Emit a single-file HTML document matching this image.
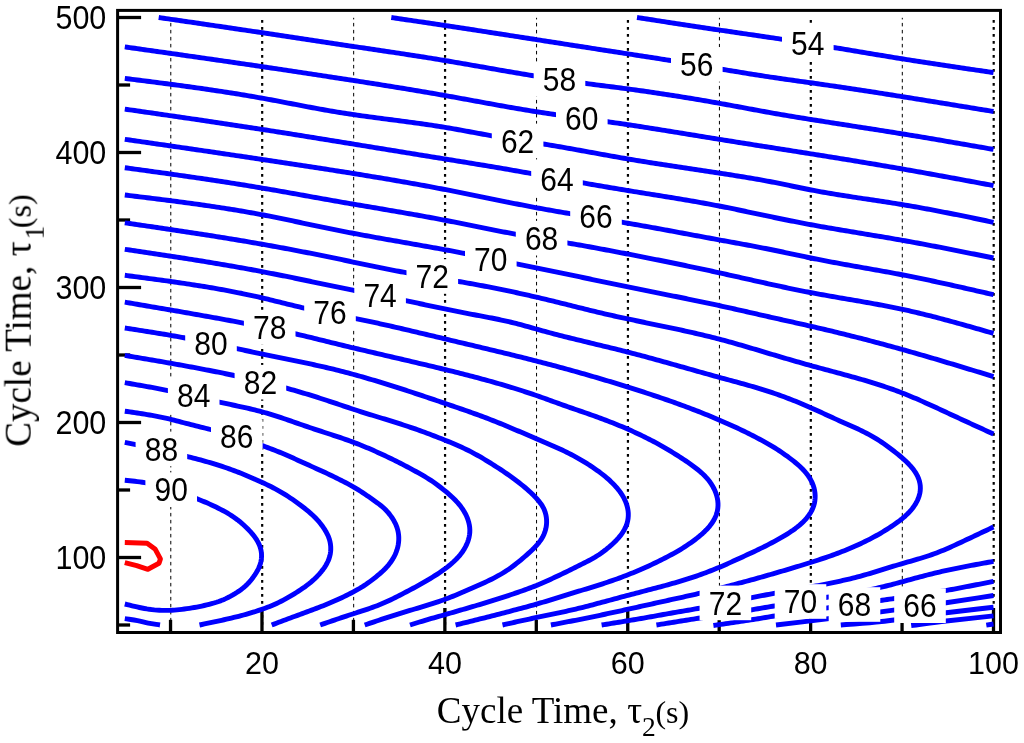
<!DOCTYPE html><html><head><meta charset="utf-8"><style>html,body{margin:0;padding:0;background:#fff;}text{will-change:transform;}svg{display:block;}</style></head><body>
<svg width="1024" height="743" viewBox="0 0 1024 743">
<rect x="0" y="0" width="1024" height="743" fill="#fff"/>
<defs><clipPath id="dom"><rect x="124.82" y="17.50" width="868.68" height="607.50"/></clipPath></defs>
<line x1="170.79" y1="17.80" x2="170.79" y2="625.00" stroke="#000" stroke-width="1" stroke-dasharray="3.5 3.5" stroke-dashoffset="1.9"/>
<line x1="262.18" y1="20.05" x2="262.18" y2="625.00" stroke="#000" stroke-width="2.2" stroke-dasharray="2.7 4.3"/>
<line x1="353.67" y1="17.80" x2="353.67" y2="625.00" stroke="#000" stroke-width="1" stroke-dasharray="3.5 3.5" stroke-dashoffset="1.9"/>
<line x1="445.06" y1="20.05" x2="445.06" y2="625.00" stroke="#000" stroke-width="2.2" stroke-dasharray="2.7 4.3"/>
<line x1="536.55" y1="17.80" x2="536.55" y2="625.00" stroke="#000" stroke-width="1" stroke-dasharray="3.5 3.5" stroke-dashoffset="1.9"/>
<line x1="627.94" y1="20.05" x2="627.94" y2="625.00" stroke="#000" stroke-width="2.2" stroke-dasharray="2.7 4.3"/>
<line x1="719.43" y1="17.80" x2="719.43" y2="625.00" stroke="#000" stroke-width="1" stroke-dasharray="3.5 3.5" stroke-dashoffset="1.9"/>
<line x1="810.82" y1="20.05" x2="810.82" y2="625.00" stroke="#000" stroke-width="2.2" stroke-dasharray="2.7 4.3"/>
<line x1="902.31" y1="17.80" x2="902.31" y2="625.00" stroke="#000" stroke-width="1" stroke-dasharray="3.5 3.5" stroke-dashoffset="1.9"/>
<line x1="993.70" y1="20.05" x2="993.70" y2="625.00" stroke="#000" stroke-width="2.2" stroke-dasharray="2.7 4.3"/>
<line x1="117.60" y1="625.00" x2="130.10" y2="625.00" stroke="#000" stroke-width="3.3"/>
<line x1="117.60" y1="557.50" x2="141.10" y2="557.50" stroke="#000" stroke-width="3.3"/>
<line x1="117.60" y1="490.00" x2="130.10" y2="490.00" stroke="#000" stroke-width="3.3"/>
<line x1="117.60" y1="422.50" x2="141.10" y2="422.50" stroke="#000" stroke-width="3.3"/>
<line x1="117.60" y1="355.00" x2="130.10" y2="355.00" stroke="#000" stroke-width="3.3"/>
<line x1="117.60" y1="287.50" x2="141.10" y2="287.50" stroke="#000" stroke-width="3.3"/>
<line x1="117.60" y1="220.00" x2="130.10" y2="220.00" stroke="#000" stroke-width="3.3"/>
<line x1="117.60" y1="152.50" x2="141.10" y2="152.50" stroke="#000" stroke-width="3.3"/>
<line x1="117.60" y1="85.00" x2="130.10" y2="85.00" stroke="#000" stroke-width="3.3"/>
<line x1="117.60" y1="17.50" x2="141.10" y2="17.50" stroke="#000" stroke-width="3.3"/>
<line x1="170.54" y1="632.50" x2="170.54" y2="619.80" stroke="#000" stroke-width="3.3"/>
<line x1="261.98" y1="632.50" x2="261.98" y2="608.00" stroke="#000" stroke-width="3.3"/>
<line x1="353.42" y1="632.50" x2="353.42" y2="619.80" stroke="#000" stroke-width="3.3"/>
<line x1="444.86" y1="632.50" x2="444.86" y2="608.00" stroke="#000" stroke-width="3.3"/>
<line x1="536.30" y1="632.50" x2="536.30" y2="619.80" stroke="#000" stroke-width="3.3"/>
<line x1="627.74" y1="632.50" x2="627.74" y2="608.00" stroke="#000" stroke-width="3.3"/>
<line x1="719.18" y1="632.50" x2="719.18" y2="619.80" stroke="#000" stroke-width="3.3"/>
<line x1="810.62" y1="632.50" x2="810.62" y2="608.00" stroke="#000" stroke-width="3.3"/>
<line x1="902.06" y1="632.50" x2="902.06" y2="619.80" stroke="#000" stroke-width="3.3"/>
<line x1="993.50" y1="632.50" x2="993.50" y2="608.00" stroke="#000" stroke-width="3.3"/>
<g fill="none" stroke="#0000ff" stroke-width="4.9" stroke-linejoin="round" stroke-linecap="butt">
<path d="M637.00,17.50 L639.48,17.88 L641.95,18.26 L644.43,18.65 L646.90,19.03 L649.38,19.41 L651.86,19.79 L654.33,20.17 L656.81,20.56 L659.28,20.94 L661.76,21.32 L664.23,21.70 L666.71,22.08 L669.19,22.46 L671.66,22.84 L674.14,23.22 L676.62,23.60 L679.09,23.97 L681.57,24.35 L684.05,24.73 L686.52,25.11 L689.00,25.48 L691.48,25.86 L693.95,26.23 L696.43,26.61 L698.91,26.98 L701.38,27.35 L703.86,27.73 L706.34,28.10 L708.82,28.47 L711.29,28.84 L713.77,29.21 L716.25,29.58 L718.73,29.94 L721.21,30.31 L723.68,30.67 L726.16,31.04 L728.64,31.40 L731.12,31.77 L733.60,32.13 L736.08,32.49 L738.56,32.85 L741.04,33.22 L743.51,33.58 L745.99,33.94 L748.47,34.30 L750.95,34.66 L753.43,35.03 L755.91,35.39 L758.39,35.75 L760.87,36.12 L763.34,36.48 L765.82,36.85 L768.30,37.22 L770.78,37.58 L773.26,37.95 L775.73,38.32 L778.21,38.69 L780.69,39.07 L783.17,39.44 L785.64,39.82 L788.12,40.19 L790.60,40.57 L793.07,40.95 L795.55,41.34 L798.02,41.72 L800.50,42.11 L802.97,42.50 L805.45,42.89 L807.92,43.28 L810.39,43.68 L812.87,44.07 L815.34,44.47 L817.81,44.87 L820.29,45.27 L822.76,45.68 L825.23,46.08 L827.70,46.49 L830.17,46.90 L832.65,47.30 L835.12,47.71 L837.59,48.12 L840.06,48.53 L842.53,48.95 L845.00,49.36 L847.47,49.77 L849.94,50.18 L852.42,50.59 L854.89,51.01 L857.36,51.42 L859.83,51.83 L862.30,52.25 L864.77,52.66 L867.24,53.07 L869.71,53.48 L872.18,53.90 L874.65,54.31 L877.13,54.72 L879.60,55.13 L882.07,55.53 L884.54,55.94 L887.01,56.35 L889.49,56.75 L891.96,57.16 L894.43,57.56 L896.90,57.96 L899.38,58.36 L901.85,58.76 L904.32,59.15 L906.80,59.55 L909.27,59.94 L911.75,60.33 L914.22,60.72 L916.70,61.10 L919.17,61.49 L921.65,61.87 L924.12,62.26 L926.60,62.64 L929.07,63.02 L931.55,63.40 L934.03,63.78 L936.50,64.15 L938.98,64.53 L941.46,64.90 L943.93,65.27 L946.41,65.65 L948.89,66.02 L951.37,66.39 L953.84,66.76 L956.32,67.13 L958.80,67.50 L961.28,67.86 L963.76,68.23 L966.23,68.60 L968.71,68.96 L971.19,69.33 L973.67,69.69 L976.15,70.06 L978.63,70.42 L981.11,70.78 L983.58,71.15 L986.06,71.51 L988.54,71.87 L991.02,72.24 L993.50,72.60"/>
<path d="M391.30,17.50 L393.78,17.87 L396.26,18.24 L398.74,18.60 L401.22,18.97 L403.71,19.34 L406.19,19.71 L408.67,20.07 L411.15,20.44 L413.63,20.81 L416.11,21.18 L418.59,21.55 L421.07,21.92 L423.55,22.29 L426.03,22.66 L428.52,23.03 L431.00,23.40 L433.48,23.77 L435.96,24.14 L438.44,24.52 L440.92,24.89 L443.40,25.26 L445.88,25.64 L448.36,26.01 L450.84,26.39 L453.32,26.77 L455.80,27.14 L458.28,27.52 L460.76,27.90 L463.24,28.28 L465.72,28.65 L468.20,29.03 L470.68,29.41 L473.15,29.79 L475.63,30.17 L478.11,30.56 L480.59,30.94 L483.07,31.32 L485.55,31.70 L488.03,32.09 L490.51,32.47 L492.99,32.85 L495.47,33.24 L497.94,33.62 L500.42,34.00 L502.90,34.39 L505.38,34.77 L507.86,35.16 L510.34,35.55 L512.82,35.93 L515.29,36.32 L517.77,36.70 L520.25,37.09 L522.73,37.48 L525.21,37.86 L527.69,38.25 L530.16,38.64 L532.64,39.02 L535.12,39.41 L537.60,39.80 L540.08,40.19 L542.55,40.57 L545.03,40.96 L547.51,41.35 L549.99,41.74 L552.47,42.12 L554.95,42.51 L557.42,42.90 L559.90,43.29 L562.38,43.67 L564.86,44.06 L567.34,44.45 L569.81,44.83 L572.29,45.22 L574.77,45.61 L577.25,45.99 L579.73,46.38 L582.21,46.77 L584.68,47.15 L587.16,47.54 L589.64,47.93 L592.12,48.31 L594.60,48.70 L597.08,49.08 L599.55,49.47 L602.03,49.85 L604.51,50.24 L606.99,50.62 L609.47,51.01 L611.95,51.39 L614.43,51.77 L616.91,52.16 L619.38,52.54 L621.86,52.92 L624.34,53.31 L626.82,53.69 L629.30,54.07 L631.78,54.45 L634.26,54.83 L636.74,55.22 L639.22,55.60 L641.70,55.98 L644.17,56.36 L646.65,56.75 L649.13,57.13 L651.61,57.52 L654.09,57.91 L656.57,58.29 L659.04,58.69 L661.52,59.08 L664.00,59.47 L666.47,59.87 L668.95,60.27 L671.43,60.67 L673.90,61.08 L676.38,61.49 L678.85,61.90 L681.32,62.31 L683.80,62.72 L686.27,63.14 L688.74,63.56 L691.22,63.98 L693.69,64.40 L696.16,64.82 L698.64,65.24 L701.11,65.66 L703.58,66.09 L706.05,66.51 L708.52,66.93 L711.00,67.36 L713.47,67.78 L715.94,68.20 L718.41,68.63 L720.89,69.05 L723.36,69.47 L725.83,69.89 L728.31,70.30 L730.78,70.72 L733.25,71.13 L735.73,71.54 L738.20,71.95 L740.68,72.36 L743.15,72.77 L745.63,73.17 L748.10,73.57 L750.58,73.97 L753.06,74.37 L755.53,74.76 L758.01,75.15 L760.49,75.54 L762.97,75.92 L765.45,76.30 L767.93,76.68 L770.41,77.06 L772.89,77.43 L775.37,77.79 L777.85,78.16 L780.33,78.52 L782.82,78.87 L785.30,79.23 L787.78,79.58 L790.27,79.93 L792.75,80.27 L795.23,80.62 L797.72,80.97 L800.20,81.31 L802.69,81.66 L805.17,82.00 L807.66,82.35 L810.14,82.70 L812.62,83.05 L815.11,83.40 L817.59,83.76 L820.07,84.11 L822.56,84.47 L825.04,84.83 L827.52,85.19 L830.00,85.55 L832.48,85.91 L834.97,86.28 L837.45,86.64 L839.93,87.01 L842.41,87.38 L844.89,87.75 L847.37,88.12 L849.85,88.49 L852.33,88.87 L854.81,89.24 L857.29,89.62 L859.77,90.00 L862.25,90.38 L864.73,90.76 L867.21,91.14 L869.69,91.52 L872.17,91.91 L874.64,92.29 L877.12,92.68 L879.60,93.06 L882.08,93.45 L884.56,93.84 L887.04,94.23 L889.51,94.62 L891.99,95.01 L894.47,95.40 L896.95,95.80 L899.42,96.19 L901.90,96.58 L904.38,96.98 L906.85,97.37 L909.33,97.77 L911.81,98.17 L914.28,98.56 L916.76,98.96 L919.24,99.36 L921.71,99.76 L924.19,100.16 L926.67,100.56 L929.14,100.96 L931.62,101.36 L934.09,101.76 L936.57,102.17 L939.05,102.57 L941.52,102.97 L944.00,103.38 L946.47,103.78 L948.95,104.18 L951.42,104.59 L953.90,104.99 L956.37,105.40 L958.85,105.80 L961.32,106.21 L963.80,106.62 L966.27,107.02 L968.75,107.43 L971.23,107.84 L973.70,108.24 L976.18,108.65 L978.65,109.06 L981.13,109.46 L983.60,109.87 L986.08,110.28 L988.55,110.69 L991.03,111.09 L993.50,111.50"/>
<path d="M158.70,17.50 L161.17,17.86 L163.65,18.22 L166.12,18.58 L168.60,18.94 L171.07,19.30 L173.55,19.66 L176.02,20.02 L178.50,20.38 L180.97,20.74 L183.45,21.10 L185.92,21.46 L188.40,21.82 L190.87,22.18 L193.34,22.54 L195.82,22.91 L198.29,23.27 L200.77,23.63 L203.24,23.99 L205.72,24.35 L208.19,24.72 L210.66,25.08 L213.14,25.44 L215.61,25.81 L218.09,26.17 L220.56,26.53 L223.03,26.90 L225.51,27.26 L227.98,27.63 L230.46,27.99 L232.93,28.36 L235.40,28.72 L237.88,29.09 L240.35,29.46 L242.82,29.83 L245.30,30.19 L247.77,30.56 L250.24,30.93 L252.72,31.30 L255.19,31.67 L257.66,32.04 L260.14,32.41 L262.61,32.78 L265.08,33.16 L267.56,33.53 L270.03,33.90 L272.50,34.28 L274.97,34.65 L277.45,35.02 L279.92,35.40 L282.39,35.77 L284.86,36.15 L287.33,36.53 L289.81,36.90 L292.28,37.28 L294.75,37.65 L297.22,38.03 L299.70,38.40 L302.17,38.78 L304.64,39.15 L307.11,39.53 L309.59,39.90 L312.06,40.28 L314.53,40.65 L317.00,41.03 L319.48,41.40 L321.95,41.78 L324.42,42.15 L326.89,42.52 L329.37,42.89 L331.84,43.27 L334.31,43.64 L336.79,44.01 L339.26,44.38 L341.73,44.74 L344.21,45.11 L346.68,45.48 L349.15,45.85 L351.63,46.21 L354.10,46.58 L356.58,46.94 L359.05,47.31 L361.52,47.68 L364.00,48.04 L366.47,48.41 L368.94,48.77 L371.42,49.14 L373.89,49.50 L376.37,49.87 L378.84,50.24 L381.31,50.60 L383.79,50.97 L386.26,51.34 L388.73,51.71 L391.21,52.08 L393.68,52.45 L396.15,52.83 L398.63,53.20 L401.10,53.57 L403.57,53.95 L406.04,54.33 L408.51,54.71 L410.99,55.09 L413.46,55.47 L415.93,55.85 L418.40,56.24 L420.87,56.63 L423.34,57.02 L425.81,57.41 L428.28,57.80 L430.75,58.20 L433.22,58.60 L435.68,59.00 L438.15,59.40 L440.62,59.81 L443.09,60.22 L445.55,60.63 L448.02,61.04 L450.48,61.46 L452.95,61.88 L455.41,62.30 L457.88,62.72 L460.34,63.15 L462.81,63.57 L465.27,64.00 L467.73,64.43 L470.20,64.86 L472.66,65.29 L475.12,65.73 L477.59,66.16 L480.05,66.59 L482.51,67.03 L484.98,67.46 L487.44,67.90 L489.90,68.33 L492.36,68.76 L494.83,69.20 L497.29,69.63 L499.75,70.06 L502.22,70.49 L504.68,70.92 L507.14,71.34 L509.61,71.77 L512.07,72.19 L514.54,72.62 L517.00,73.03 L519.47,73.45 L521.93,73.87 L524.40,74.28 L526.87,74.69 L529.34,75.09 L531.80,75.50 L534.27,75.89 L536.74,76.29 L539.21,76.68 L541.68,77.07 L544.15,77.46 L546.62,77.84 L549.09,78.22 L551.57,78.59 L554.04,78.96 L556.51,79.33 L558.99,79.70 L561.46,80.06 L563.94,80.42 L566.41,80.77 L568.89,81.13 L571.36,81.48 L573.84,81.82 L576.32,82.16 L578.79,82.51 L581.27,82.84 L583.75,83.18 L586.23,83.51 L588.71,83.84 L591.19,84.16 L593.67,84.49 L596.15,84.81 L598.63,85.13 L601.11,85.45 L603.59,85.77 L606.07,86.09 L608.55,86.41 L611.03,86.73 L613.51,87.05 L615.99,87.37 L618.47,87.69 L620.95,88.01 L623.43,88.34 L625.91,88.67 L628.38,89.00 L630.86,89.33 L633.34,89.67 L635.82,90.01 L638.29,90.35 L640.77,90.70 L643.25,91.05 L645.72,91.40 L648.20,91.76 L650.67,92.12 L653.15,92.48 L655.62,92.84 L658.10,93.21 L660.57,93.58 L663.04,93.96 L665.51,94.33 L667.99,94.71 L670.46,95.10 L672.93,95.48 L675.40,95.87 L677.87,96.26 L680.34,96.66 L682.81,97.06 L685.28,97.46 L687.74,97.86 L690.21,98.27 L692.68,98.68 L695.14,99.09 L697.61,99.50 L700.08,99.92 L702.54,100.34 L705.01,100.77 L707.47,101.20 L709.93,101.63 L712.40,102.06 L714.86,102.50 L717.32,102.93 L719.78,103.38 L722.24,103.82 L724.70,104.27 L727.16,104.72 L729.62,105.17 L732.08,105.62 L734.54,106.08 L737.00,106.53 L739.46,106.99 L741.92,107.44 L744.38,107.90 L746.84,108.36 L749.29,108.81 L751.75,109.27 L754.21,109.72 L756.67,110.18 L759.13,110.63 L761.59,111.08 L764.05,111.52 L766.51,111.97 L768.97,112.41 L771.43,112.85 L773.90,113.29 L776.36,113.72 L778.82,114.15 L781.29,114.58 L783.75,115.00 L786.22,115.42 L788.68,115.83 L791.15,116.24 L793.61,116.65 L796.08,117.06 L798.55,117.47 L801.02,117.87 L803.49,118.27 L805.95,118.67 L808.42,119.07 L810.89,119.46 L813.36,119.86 L815.83,120.25 L818.30,120.64 L820.77,121.03 L823.24,121.42 L825.71,121.81 L828.18,122.20 L830.65,122.59 L833.12,122.98 L835.59,123.36 L838.06,123.75 L840.53,124.14 L843.00,124.52 L845.48,124.91 L847.95,125.29 L850.42,125.68 L852.89,126.06 L855.36,126.44 L857.83,126.83 L860.30,127.21 L862.77,127.60 L865.24,127.99 L867.71,128.37 L870.18,128.76 L872.65,129.15 L875.12,129.53 L877.60,129.92 L880.07,130.31 L882.54,130.70 L885.01,131.09 L887.48,131.48 L889.94,131.88 L892.41,132.27 L894.88,132.67 L897.35,133.06 L899.82,133.46 L902.29,133.86 L904.76,134.26 L907.23,134.67 L909.69,135.07 L912.16,135.48 L914.63,135.88 L917.09,136.29 L919.56,136.70 L922.03,137.11 L924.49,137.53 L926.96,137.94 L929.43,138.35 L931.89,138.77 L934.36,139.19 L936.82,139.61 L939.29,140.02 L941.75,140.44 L944.22,140.86 L946.68,141.29 L949.15,141.71 L951.61,142.13 L954.08,142.56 L956.54,142.98 L959.01,143.41 L961.47,143.83 L963.94,144.26 L966.40,144.68 L968.86,145.11 L971.33,145.54 L973.79,145.97 L976.25,146.40 L978.72,146.82 L981.18,147.25 L983.65,147.68 L986.11,148.11 L988.57,148.54 L991.04,148.97 L993.50,149.40"/>
<path d="M124.80,46.90 L127.28,47.25 L129.76,47.60 L132.25,47.95 L134.73,48.30 L137.21,48.66 L139.69,49.01 L142.17,49.36 L144.65,49.71 L147.14,50.06 L149.62,50.41 L152.10,50.76 L154.58,51.12 L157.06,51.47 L159.54,51.82 L162.03,52.17 L164.51,52.52 L166.99,52.88 L169.47,53.23 L171.95,53.58 L174.43,53.94 L176.92,54.29 L179.40,54.64 L181.88,55.00 L184.36,55.35 L186.84,55.70 L189.32,56.06 L191.80,56.41 L194.28,56.77 L196.77,57.12 L199.25,57.48 L201.73,57.83 L204.21,58.19 L206.69,58.55 L209.17,58.90 L211.65,59.26 L214.13,59.62 L216.61,59.98 L219.09,60.33 L221.58,60.69 L224.06,61.05 L226.54,61.41 L229.02,61.77 L231.50,62.13 L233.98,62.49 L236.46,62.85 L238.94,63.22 L241.42,63.58 L243.90,63.94 L246.38,64.30 L248.86,64.67 L251.34,65.03 L253.82,65.40 L256.30,65.76 L258.78,66.13 L261.26,66.49 L263.74,66.86 L266.22,67.23 L268.70,67.59 L271.18,67.96 L273.65,68.33 L276.13,68.70 L278.61,69.07 L281.09,69.44 L283.57,69.81 L286.05,70.18 L288.53,70.56 L291.01,70.93 L293.49,71.30 L295.96,71.68 L298.44,72.05 L300.92,72.42 L303.40,72.80 L305.88,73.17 L308.35,73.55 L310.83,73.93 L313.31,74.30 L315.79,74.68 L318.27,75.06 L320.74,75.44 L323.22,75.82 L325.70,76.20 L328.18,76.58 L330.65,76.96 L333.13,77.34 L335.61,77.72 L338.09,78.10 L340.56,78.48 L343.04,78.86 L345.52,79.25 L348.00,79.63 L350.47,80.01 L352.95,80.40 L355.43,80.78 L357.90,81.17 L360.38,81.55 L362.86,81.94 L365.33,82.33 L367.81,82.72 L370.28,83.11 L372.76,83.50 L375.24,83.89 L377.71,84.28 L380.19,84.68 L382.66,85.07 L385.14,85.47 L387.61,85.87 L390.09,86.27 L392.56,86.67 L395.04,87.07 L397.51,87.47 L399.98,87.87 L402.46,88.28 L404.93,88.69 L407.40,89.09 L409.88,89.50 L412.35,89.92 L414.82,90.33 L417.29,90.74 L419.76,91.16 L422.23,91.58 L424.71,92.00 L427.18,92.42 L429.65,92.85 L432.12,93.27 L434.59,93.70 L437.06,94.13 L439.53,94.57 L441.99,95.00 L444.46,95.44 L446.93,95.88 L449.40,96.32 L451.87,96.76 L454.33,97.20 L456.80,97.65 L459.27,98.10 L461.73,98.55 L464.20,99.00 L466.66,99.45 L469.13,99.90 L471.60,100.35 L474.06,100.80 L476.53,101.26 L478.99,101.71 L481.46,102.16 L483.93,102.61 L486.39,103.06 L488.86,103.51 L491.32,103.96 L493.79,104.40 L496.26,104.85 L498.72,105.29 L501.19,105.73 L503.66,106.17 L506.13,106.61 L508.60,107.05 L511.06,107.48 L513.53,107.91 L516.00,108.34 L518.47,108.76 L520.94,109.18 L523.42,109.60 L525.89,110.01 L528.36,110.42 L530.83,110.82 L533.31,111.22 L535.78,111.62 L538.26,112.01 L540.73,112.40 L543.21,112.78 L545.69,113.15 L548.16,113.53 L550.64,113.89 L553.12,114.25 L555.60,114.61 L558.09,114.97 L560.57,115.32 L563.05,115.66 L565.53,116.01 L568.01,116.35 L570.50,116.69 L572.98,117.03 L575.46,117.37 L577.95,117.70 L580.43,118.04 L582.92,118.37 L585.40,118.71 L587.89,119.04 L590.37,119.37 L592.85,119.71 L595.34,120.05 L597.82,120.39 L600.30,120.73 L602.79,121.07 L605.27,121.41 L607.75,121.76 L610.23,122.11 L612.72,122.46 L615.20,122.82 L617.68,123.18 L620.16,123.54 L622.64,123.91 L625.12,124.28 L627.60,124.65 L630.07,125.02 L632.55,125.40 L635.03,125.77 L637.51,126.15 L639.98,126.53 L642.46,126.92 L644.94,127.30 L647.41,127.69 L649.89,128.08 L652.37,128.47 L654.84,128.87 L657.32,129.26 L659.79,129.66 L662.27,130.05 L664.74,130.45 L667.22,130.85 L669.69,131.25 L672.16,131.65 L674.64,132.05 L677.11,132.45 L679.59,132.86 L682.06,133.26 L684.54,133.66 L687.01,134.07 L689.48,134.47 L691.96,134.88 L694.43,135.28 L696.90,135.69 L699.38,136.09 L701.85,136.49 L704.33,136.90 L706.80,137.30 L709.27,137.70 L711.75,138.11 L714.22,138.51 L716.70,138.91 L719.17,139.31 L721.65,139.70 L724.12,140.10 L726.60,140.50 L729.07,140.90 L731.55,141.29 L734.02,141.68 L736.50,142.08 L738.97,142.47 L741.45,142.86 L743.92,143.26 L746.40,143.65 L748.87,144.04 L751.35,144.43 L753.83,144.82 L756.30,145.21 L758.78,145.60 L761.25,145.99 L763.73,146.38 L766.21,146.76 L768.68,147.15 L771.16,147.54 L773.64,147.93 L776.11,148.32 L778.59,148.71 L781.06,149.10 L783.54,149.49 L786.02,149.88 L788.49,150.27 L790.97,150.66 L793.44,151.05 L795.92,151.44 L798.40,151.83 L800.87,152.22 L803.35,152.62 L805.82,153.01 L808.30,153.40 L810.77,153.80 L813.25,154.19 L815.72,154.59 L818.20,154.98 L820.67,155.38 L823.15,155.77 L825.62,156.17 L828.10,156.57 L830.57,156.97 L833.05,157.37 L835.52,157.77 L838.00,158.17 L840.47,158.57 L842.95,158.97 L845.42,159.37 L847.89,159.78 L850.37,160.18 L852.84,160.59 L855.31,161.00 L857.79,161.41 L860.26,161.81 L862.73,162.23 L865.20,162.64 L867.68,163.05 L870.15,163.46 L872.62,163.88 L875.09,164.29 L877.56,164.71 L880.03,165.13 L882.51,165.55 L884.98,165.97 L887.45,166.39 L889.92,166.81 L892.39,167.24 L894.86,167.67 L897.33,168.09 L899.80,168.52 L902.27,168.95 L904.74,169.39 L907.20,169.82 L909.67,170.25 L912.14,170.69 L914.61,171.13 L917.08,171.57 L919.54,172.01 L922.01,172.45 L924.48,172.89 L926.94,173.34 L929.41,173.78 L931.88,174.23 L934.34,174.67 L936.81,175.12 L939.28,175.57 L941.74,176.02 L944.21,176.47 L946.67,176.92 L949.14,177.37 L951.60,177.83 L954.07,178.28 L956.53,178.74 L959.00,179.19 L961.46,179.65 L963.93,180.10 L966.39,180.56 L968.86,181.02 L971.32,181.47 L973.79,181.93 L976.25,182.39 L978.71,182.85 L981.18,183.31 L983.64,183.76 L986.11,184.22 L988.57,184.68 L991.04,185.14 L993.50,185.60"/>
<path d="M124.80,78.40 L127.28,78.71 L129.77,79.03 L132.25,79.34 L134.73,79.65 L137.22,79.97 L139.70,80.28 L142.19,80.60 L144.67,80.91 L147.15,81.23 L149.63,81.55 L152.12,81.86 L154.60,82.18 L157.08,82.50 L159.57,82.82 L162.05,83.15 L164.53,83.47 L167.01,83.79 L169.49,84.12 L171.97,84.45 L174.46,84.78 L176.94,85.11 L179.42,85.44 L181.90,85.78 L184.38,86.11 L186.86,86.45 L189.34,86.79 L191.81,87.14 L194.29,87.48 L196.77,87.83 L199.25,88.18 L201.73,88.53 L204.20,88.89 L206.68,89.24 L209.15,89.61 L211.63,89.97 L214.10,90.34 L216.58,90.71 L219.05,91.08 L221.53,91.45 L224.00,91.83 L226.47,92.22 L228.94,92.60 L231.41,92.99 L233.88,93.39 L236.35,93.78 L238.82,94.18 L241.29,94.59 L243.76,95.00 L246.23,95.41 L248.69,95.83 L251.16,96.25 L253.63,96.68 L256.09,97.11 L258.55,97.54 L261.02,97.98 L263.48,98.42 L265.94,98.87 L268.40,99.33 L270.86,99.78 L273.32,100.24 L275.78,100.70 L278.24,101.17 L280.70,101.64 L283.16,102.10 L285.61,102.57 L288.07,103.05 L290.53,103.52 L292.99,103.99 L295.44,104.46 L297.90,104.93 L300.36,105.40 L302.82,105.87 L305.28,106.34 L307.73,106.81 L310.19,107.27 L312.65,107.73 L315.11,108.19 L317.57,108.64 L320.03,109.09 L322.50,109.53 L324.96,109.97 L327.42,110.41 L329.89,110.84 L332.35,111.26 L334.82,111.68 L337.29,112.09 L339.76,112.49 L342.23,112.89 L344.70,113.27 L347.17,113.66 L349.64,114.03 L352.12,114.40 L354.59,114.76 L357.07,115.12 L359.55,115.47 L362.02,115.82 L364.50,116.17 L366.98,116.51 L369.46,116.84 L371.94,117.18 L374.42,117.51 L376.90,117.84 L379.38,118.16 L381.86,118.49 L384.35,118.81 L386.83,119.13 L389.31,119.46 L391.79,119.78 L394.27,120.10 L396.76,120.42 L399.24,120.75 L401.72,121.07 L404.20,121.40 L406.68,121.73 L409.16,122.06 L411.64,122.39 L414.12,122.73 L416.60,123.07 L419.08,123.41 L421.56,123.76 L424.03,124.11 L426.51,124.47 L428.98,124.84 L431.46,125.20 L433.93,125.58 L436.40,125.96 L438.87,126.35 L441.34,126.75 L443.81,127.15 L446.28,127.56 L448.75,127.98 L451.21,128.41 L453.68,128.84 L456.14,129.28 L458.60,129.72 L461.06,130.16 L463.52,130.61 L465.98,131.06 L468.44,131.52 L470.91,131.97 L473.37,132.43 L475.83,132.88 L478.29,133.33 L480.75,133.78 L483.21,134.23 L485.67,134.67 L488.14,135.11 L490.60,135.54 L493.07,135.96 L495.53,136.38 L498.00,136.80 L500.47,137.21 L502.94,137.61 L505.41,138.01 L507.88,138.41 L510.35,138.80 L512.82,139.19 L515.29,139.58 L517.76,139.97 L520.23,140.35 L522.71,140.74 L525.18,141.12 L527.65,141.51 L530.12,141.89 L532.60,142.28 L535.07,142.67 L537.54,143.06 L540.01,143.46 L542.48,143.86 L544.95,144.26 L547.42,144.67 L549.88,145.08 L552.35,145.50 L554.82,145.92 L557.28,146.34 L559.75,146.77 L562.21,147.20 L564.68,147.63 L567.14,148.07 L569.61,148.51 L572.07,148.95 L574.53,149.39 L576.99,149.83 L579.46,150.27 L581.92,150.72 L584.38,151.16 L586.84,151.61 L589.31,152.06 L591.77,152.50 L594.23,152.95 L596.69,153.40 L599.15,153.84 L601.62,154.29 L604.08,154.73 L606.54,155.18 L609.00,155.62 L611.47,156.06 L613.93,156.50 L616.39,156.93 L618.86,157.37 L621.32,157.80 L623.79,158.22 L626.25,158.65 L628.72,159.07 L631.19,159.49 L633.65,159.90 L636.12,160.31 L638.59,160.72 L641.06,161.12 L643.53,161.52 L646.00,161.92 L648.47,162.32 L650.94,162.71 L653.41,163.10 L655.88,163.49 L658.35,163.88 L660.83,164.26 L663.30,164.65 L665.77,165.03 L668.25,165.41 L670.72,165.79 L673.19,166.17 L675.67,166.54 L678.14,166.92 L680.61,167.29 L683.09,167.66 L685.56,168.04 L688.04,168.41 L690.51,168.78 L692.99,169.15 L695.46,169.53 L697.94,169.90 L700.41,170.27 L702.89,170.64 L705.36,171.01 L707.83,171.39 L710.31,171.76 L712.78,172.14 L715.26,172.51 L717.73,172.89 L720.20,173.27 L722.68,173.65 L725.15,174.03 L727.62,174.41 L730.10,174.79 L732.57,175.18 L735.04,175.57 L737.51,175.97 L739.98,176.37 L742.45,176.77 L744.92,177.17 L747.39,177.58 L749.85,178.00 L752.32,178.42 L754.79,178.84 L757.25,179.27 L759.71,179.71 L762.17,180.15 L764.64,180.60 L767.09,181.06 L769.55,181.52 L772.01,181.99 L774.46,182.47 L776.92,182.95 L779.37,183.45 L781.82,183.95 L784.27,184.45 L786.72,184.96 L789.17,185.47 L791.61,185.98 L794.06,186.50 L796.51,187.01 L798.96,187.52 L801.41,188.02 L803.86,188.52 L806.31,189.02 L808.76,189.50 L811.22,189.98 L813.67,190.45 L816.13,190.91 L818.59,191.36 L821.05,191.81 L823.51,192.25 L825.98,192.68 L828.44,193.10 L830.91,193.52 L833.38,193.93 L835.85,194.33 L838.31,194.73 L840.78,195.13 L843.26,195.52 L845.73,195.91 L848.20,196.29 L850.67,196.67 L853.15,197.05 L855.62,197.43 L858.10,197.80 L860.57,198.17 L863.05,198.55 L865.52,198.92 L868.00,199.29 L870.47,199.66 L872.95,200.03 L875.42,200.40 L877.90,200.77 L880.37,201.14 L882.85,201.52 L885.32,201.90 L887.79,202.28 L890.27,202.67 L892.74,203.05 L895.21,203.45 L897.68,203.84 L900.15,204.25 L902.62,204.65 L905.09,205.06 L907.55,205.48 L910.02,205.90 L912.49,206.33 L914.95,206.77 L917.41,207.20 L919.88,207.64 L922.34,208.09 L924.80,208.54 L927.26,209.00 L929.72,209.46 L932.18,209.92 L934.64,210.38 L937.09,210.85 L939.55,211.33 L942.01,211.80 L944.46,212.28 L946.92,212.77 L949.37,213.25 L951.83,213.74 L954.28,214.23 L956.73,214.72 L959.19,215.22 L961.64,215.72 L964.09,216.21 L966.54,216.72 L968.99,217.22 L971.45,217.72 L973.90,218.23 L976.35,218.73 L978.80,219.24 L981.25,219.75 L983.70,220.26 L986.15,220.77 L988.60,221.28 L991.05,221.79 L993.50,222.30"/>
<path d="M124.80,109.10 L127.28,109.46 L129.76,109.81 L132.24,110.17 L134.71,110.53 L137.19,110.89 L139.67,111.24 L142.15,111.60 L144.63,111.96 L147.11,112.32 L149.59,112.68 L152.06,113.04 L154.54,113.39 L157.02,113.75 L159.50,114.11 L161.98,114.47 L164.46,114.83 L166.94,115.19 L169.41,115.55 L171.89,115.91 L174.37,116.27 L176.85,116.63 L179.33,116.99 L181.80,117.36 L184.28,117.72 L186.76,118.08 L189.24,118.44 L191.72,118.81 L194.19,119.17 L196.67,119.54 L199.15,119.90 L201.63,120.27 L204.10,120.64 L206.58,121.00 L209.06,121.37 L211.53,121.74 L214.01,122.11 L216.49,122.48 L218.96,122.85 L221.44,123.22 L223.92,123.59 L226.39,123.96 L228.87,124.33 L231.35,124.71 L233.82,125.08 L236.30,125.46 L238.77,125.83 L241.25,126.21 L243.73,126.59 L246.20,126.97 L248.68,127.35 L251.15,127.73 L253.63,128.11 L256.10,128.49 L258.58,128.87 L261.05,129.26 L263.52,129.64 L266.00,130.03 L268.47,130.42 L270.95,130.80 L273.42,131.19 L275.89,131.58 L278.37,131.97 L280.84,132.36 L283.32,132.76 L285.79,133.15 L288.26,133.54 L290.73,133.94 L293.21,134.33 L295.68,134.73 L298.15,135.12 L300.63,135.52 L303.10,135.92 L305.57,136.32 L308.04,136.72 L310.51,137.11 L312.99,137.51 L315.46,137.91 L317.93,138.31 L320.40,138.71 L322.88,139.11 L325.35,139.52 L327.82,139.92 L330.29,140.32 L332.76,140.72 L335.23,141.12 L337.71,141.52 L340.18,141.93 L342.65,142.33 L345.12,142.73 L347.59,143.13 L350.07,143.54 L352.54,143.94 L355.01,144.34 L357.48,144.74 L359.95,145.15 L362.42,145.55 L364.90,145.95 L367.37,146.35 L369.84,146.76 L372.31,147.16 L374.78,147.56 L377.25,147.96 L379.73,148.37 L382.20,148.77 L384.67,149.17 L387.14,149.58 L389.61,149.98 L392.08,150.38 L394.56,150.78 L397.03,151.19 L399.50,151.59 L401.97,151.99 L404.44,152.39 L406.91,152.80 L409.39,153.20 L411.86,153.60 L414.33,154.00 L416.80,154.41 L419.27,154.81 L421.74,155.21 L424.22,155.61 L426.69,156.01 L429.16,156.42 L431.63,156.82 L434.10,157.22 L436.57,157.62 L439.05,158.02 L441.52,158.42 L443.99,158.82 L446.46,159.22 L448.93,159.63 L451.41,160.03 L453.88,160.43 L456.35,160.83 L458.82,161.23 L461.29,161.63 L463.77,162.03 L466.24,162.44 L468.71,162.84 L471.18,163.25 L473.65,163.65 L476.12,164.06 L478.59,164.46 L481.06,164.87 L483.54,165.28 L486.01,165.69 L488.48,166.10 L490.95,166.52 L493.42,166.93 L495.88,167.35 L498.35,167.77 L500.82,168.19 L503.29,168.61 L505.76,169.03 L508.23,169.46 L510.69,169.89 L513.16,170.32 L515.63,170.75 L518.09,171.18 L520.56,171.62 L523.02,172.06 L525.49,172.50 L527.95,172.94 L530.42,173.38 L532.88,173.83 L535.35,174.27 L537.81,174.72 L540.28,175.16 L542.74,175.61 L545.20,176.06 L547.67,176.51 L550.13,176.96 L552.60,177.41 L555.06,177.86 L557.52,178.30 L559.99,178.75 L562.45,179.20 L564.91,179.65 L567.38,180.09 L569.84,180.54 L572.31,180.98 L574.77,181.43 L577.24,181.87 L579.70,182.31 L582.17,182.75 L584.63,183.18 L587.10,183.62 L589.57,184.05 L592.03,184.49 L594.50,184.91 L596.97,185.34 L599.44,185.77 L601.90,186.19 L604.37,186.62 L606.84,187.04 L609.31,187.46 L611.78,187.87 L614.25,188.29 L616.72,188.70 L619.19,189.12 L621.66,189.53 L624.13,189.93 L626.60,190.34 L629.07,190.75 L631.54,191.15 L634.02,191.55 L636.49,191.95 L638.96,192.35 L641.43,192.75 L643.91,193.15 L646.38,193.55 L648.85,193.94 L651.33,194.34 L653.80,194.74 L656.27,195.14 L658.74,195.53 L661.22,195.93 L663.69,196.33 L666.16,196.73 L668.63,197.14 L671.11,197.54 L673.58,197.95 L676.05,198.35 L678.52,198.76 L680.99,199.18 L683.46,199.59 L685.93,200.01 L688.40,200.43 L690.86,200.85 L693.33,201.28 L695.80,201.71 L698.26,202.14 L700.73,202.58 L703.19,203.03 L705.66,203.47 L708.12,203.92 L710.58,204.38 L713.04,204.84 L715.50,205.31 L717.96,205.78 L720.42,206.26 L722.88,206.74 L725.33,207.23 L727.79,207.72 L730.24,208.22 L732.69,208.72 L735.15,209.22 L737.60,209.73 L740.05,210.24 L742.50,210.75 L744.95,211.27 L747.40,211.78 L749.85,212.30 L752.30,212.82 L754.75,213.34 L757.20,213.86 L759.65,214.38 L762.10,214.90 L764.55,215.42 L767.00,215.94 L769.45,216.46 L771.90,216.97 L774.36,217.48 L776.81,217.99 L779.26,218.50 L781.71,219.00 L784.17,219.50 L786.62,220.00 L789.08,220.49 L791.53,220.98 L793.99,221.47 L796.45,221.95 L798.90,222.43 L801.36,222.90 L803.82,223.38 L806.28,223.84 L808.74,224.30 L811.20,224.76 L813.67,225.21 L816.13,225.66 L818.59,226.11 L821.06,226.55 L823.53,226.98 L825.99,227.42 L828.46,227.85 L830.93,228.28 L833.39,228.70 L835.86,229.12 L838.33,229.54 L840.80,229.96 L843.27,230.38 L845.74,230.79 L848.21,231.20 L850.68,231.62 L853.15,232.03 L855.62,232.44 L858.09,232.84 L860.56,233.25 L863.03,233.66 L865.50,234.07 L867.98,234.48 L870.45,234.89 L872.92,235.30 L875.39,235.71 L877.86,236.12 L880.33,236.53 L882.80,236.95 L885.27,237.36 L887.74,237.78 L890.21,238.20 L892.67,238.62 L895.14,239.05 L897.61,239.48 L900.08,239.91 L902.54,240.34 L905.01,240.78 L907.47,241.22 L909.94,241.66 L912.40,242.11 L914.86,242.56 L917.33,243.01 L919.79,243.47 L922.25,243.93 L924.71,244.39 L927.17,244.85 L929.63,245.32 L932.09,245.79 L934.55,246.26 L937.01,246.73 L939.47,247.20 L941.93,247.68 L944.39,248.16 L946.84,248.64 L949.30,249.12 L951.76,249.61 L954.22,250.09 L956.67,250.58 L959.13,251.07 L961.58,251.56 L964.04,252.05 L966.50,252.54 L968.95,253.03 L971.41,253.53 L973.86,254.02 L976.32,254.52 L978.77,255.02 L981.23,255.51 L983.68,256.01 L986.14,256.51 L988.59,257.00 L991.05,257.50 L993.50,258.00"/>
<path d="M124.80,139.30 L127.27,139.66 L129.75,140.02 L132.22,140.38 L134.70,140.73 L137.17,141.09 L139.65,141.45 L142.12,141.81 L144.60,142.17 L147.07,142.53 L149.55,142.89 L152.02,143.25 L154.50,143.60 L156.97,143.96 L159.45,144.32 L161.92,144.68 L164.40,145.04 L166.87,145.40 L169.35,145.76 L171.82,146.12 L174.29,146.48 L176.77,146.84 L179.24,147.20 L181.72,147.56 L184.19,147.92 L186.67,148.28 L189.14,148.64 L191.62,149.01 L194.09,149.37 L196.56,149.73 L199.04,150.09 L201.51,150.45 L203.99,150.81 L206.46,151.18 L208.94,151.54 L211.41,151.90 L213.88,152.27 L216.36,152.63 L218.83,152.99 L221.31,153.36 L223.78,153.72 L226.25,154.09 L228.73,154.45 L231.20,154.82 L233.68,155.18 L236.15,155.55 L238.62,155.92 L241.10,156.28 L243.57,156.65 L246.04,157.02 L248.52,157.39 L250.99,157.75 L253.46,158.12 L255.94,158.49 L258.41,158.86 L260.88,159.23 L263.36,159.60 L265.83,159.97 L268.30,160.34 L270.77,160.72 L273.25,161.09 L275.72,161.46 L278.19,161.83 L280.66,162.21 L283.14,162.58 L285.61,162.96 L288.08,163.33 L290.55,163.71 L293.03,164.09 L295.50,164.46 L297.97,164.84 L300.44,165.22 L302.91,165.60 L305.38,165.98 L307.86,166.36 L310.33,166.74 L312.80,167.12 L315.27,167.50 L317.74,167.89 L320.21,168.27 L322.68,168.65 L325.15,169.04 L327.63,169.42 L330.10,169.81 L332.57,170.20 L335.04,170.59 L337.51,170.98 L339.98,171.37 L342.45,171.76 L344.92,172.15 L347.39,172.54 L349.86,172.94 L352.33,173.34 L354.80,173.73 L357.26,174.13 L359.73,174.53 L362.20,174.93 L364.67,175.33 L367.14,175.74 L369.61,176.14 L372.07,176.55 L374.54,176.96 L377.01,177.37 L379.47,177.78 L381.94,178.19 L384.41,178.61 L386.87,179.03 L389.34,179.44 L391.80,179.87 L394.27,180.29 L396.73,180.71 L399.20,181.14 L401.66,181.57 L404.12,182.00 L406.59,182.43 L409.05,182.87 L411.51,183.31 L413.97,183.75 L416.43,184.19 L418.89,184.64 L421.35,185.08 L423.81,185.53 L426.27,185.99 L428.73,186.44 L431.19,186.90 L433.65,187.36 L436.10,187.83 L438.56,188.29 L441.02,188.76 L443.47,189.23 L445.93,189.71 L448.38,190.19 L450.84,190.67 L453.29,191.15 L455.74,191.64 L458.20,192.12 L460.65,192.61 L463.10,193.11 L465.55,193.60 L468.00,194.10 L470.45,194.59 L472.91,195.09 L475.36,195.59 L477.81,196.09 L480.26,196.58 L482.71,197.08 L485.16,197.58 L487.61,198.08 L490.06,198.58 L492.51,199.08 L494.96,199.58 L497.41,200.08 L499.86,200.58 L502.31,201.07 L504.76,201.57 L507.22,202.06 L509.67,202.55 L512.12,203.04 L514.57,203.53 L517.03,204.01 L519.48,204.49 L521.93,204.97 L524.39,205.45 L526.84,205.93 L529.30,206.40 L531.75,206.86 L534.21,207.33 L536.67,207.79 L539.13,208.24 L541.59,208.70 L544.04,209.15 L546.51,209.59 L548.97,210.03 L551.43,210.46 L553.89,210.90 L556.35,211.32 L558.82,211.75 L561.28,212.17 L563.75,212.59 L566.21,213.01 L568.68,213.42 L571.15,213.83 L573.61,214.24 L576.08,214.65 L578.55,215.06 L581.02,215.46 L583.48,215.87 L585.95,216.27 L588.42,216.67 L590.89,217.07 L593.36,217.48 L595.82,217.88 L598.29,218.28 L600.76,218.68 L603.23,219.09 L605.70,219.49 L608.16,219.90 L610.63,220.31 L613.10,220.72 L615.56,221.13 L618.03,221.54 L620.50,221.96 L622.96,222.37 L625.43,222.80 L627.89,223.22 L630.36,223.65 L632.82,224.07 L635.28,224.51 L637.74,224.94 L640.21,225.37 L642.67,225.81 L645.13,226.25 L647.59,226.69 L650.05,227.14 L652.51,227.58 L654.97,228.03 L657.43,228.48 L659.89,228.93 L662.35,229.38 L664.81,229.83 L667.27,230.28 L669.73,230.73 L672.19,231.19 L674.65,231.64 L677.11,232.10 L679.57,232.55 L682.03,233.01 L684.48,233.47 L686.94,233.93 L689.40,234.38 L691.86,234.84 L694.32,235.30 L696.78,235.75 L699.24,236.21 L701.70,236.67 L704.15,237.12 L706.61,237.58 L709.07,238.03 L711.53,238.49 L713.99,238.94 L716.45,239.39 L718.91,239.84 L721.37,240.29 L723.83,240.74 L726.29,241.19 L728.75,241.63 L731.21,242.08 L733.67,242.53 L736.13,242.98 L738.59,243.43 L741.05,243.88 L743.51,244.33 L745.97,244.78 L748.43,245.24 L750.89,245.70 L753.34,246.16 L755.80,246.62 L758.26,247.09 L760.71,247.56 L763.17,248.04 L765.62,248.52 L768.07,249.00 L770.52,249.49 L772.97,249.99 L775.42,250.49 L777.87,250.99 L780.32,251.51 L782.76,252.02 L785.21,252.54 L787.65,253.06 L790.10,253.59 L792.54,254.11 L794.99,254.64 L797.43,255.16 L799.88,255.69 L802.32,256.21 L804.77,256.72 L807.21,257.23 L809.66,257.74 L812.11,258.24 L814.56,258.73 L817.01,259.22 L819.47,259.71 L821.92,260.18 L824.38,260.66 L826.83,261.12 L829.29,261.59 L831.75,262.05 L834.20,262.50 L836.66,262.96 L839.12,263.41 L841.58,263.85 L844.04,264.30 L846.51,264.74 L848.97,265.18 L851.43,265.62 L853.89,266.05 L856.35,266.49 L858.82,266.93 L861.28,267.36 L863.74,267.80 L866.21,268.23 L868.67,268.67 L871.13,269.10 L873.59,269.54 L876.06,269.98 L878.52,270.42 L880.98,270.86 L883.44,271.30 L885.90,271.75 L888.36,272.20 L890.82,272.65 L893.28,273.11 L895.74,273.57 L898.19,274.03 L900.65,274.50 L903.10,274.97 L905.56,275.45 L908.01,275.93 L910.47,276.42 L912.92,276.91 L915.37,277.40 L917.82,277.90 L920.27,278.41 L922.72,278.91 L925.16,279.42 L927.61,279.94 L930.06,280.46 L932.50,280.98 L934.95,281.50 L937.39,282.03 L939.83,282.56 L942.28,283.09 L944.72,283.63 L947.16,284.16 L949.60,284.70 L952.05,285.25 L954.49,285.79 L956.93,286.34 L959.37,286.89 L961.81,287.44 L964.25,287.99 L966.68,288.54 L969.12,289.10 L971.56,289.66 L974.00,290.21 L976.44,290.77 L978.88,291.33 L981.31,291.89 L983.75,292.45 L986.19,293.01 L988.63,293.58 L991.06,294.14 L993.50,294.70"/>
<path d="M124.80,167.70 L127.28,168.04 L129.77,168.38 L132.25,168.72 L134.73,169.07 L137.22,169.41 L139.70,169.75 L142.19,170.09 L144.67,170.43 L147.15,170.78 L149.64,171.12 L152.12,171.46 L154.60,171.81 L157.09,172.15 L159.57,172.50 L162.05,172.85 L164.53,173.19 L167.02,173.54 L169.50,173.89 L171.98,174.24 L174.46,174.59 L176.95,174.94 L179.43,175.30 L181.91,175.65 L184.39,176.00 L186.87,176.36 L189.35,176.72 L191.83,177.08 L194.31,177.44 L196.79,177.80 L199.27,178.16 L201.75,178.53 L204.23,178.90 L206.71,179.26 L209.19,179.63 L211.67,180.00 L214.15,180.38 L216.63,180.75 L219.11,181.13 L221.58,181.51 L224.06,181.89 L226.54,182.27 L229.01,182.66 L231.49,183.05 L233.97,183.44 L236.44,183.83 L238.92,184.22 L241.39,184.62 L243.86,185.02 L246.34,185.42 L248.81,185.82 L251.29,186.23 L253.76,186.64 L256.23,187.05 L258.70,187.46 L261.17,187.88 L263.64,188.30 L266.11,188.72 L268.58,189.15 L271.05,189.57 L273.52,190.00 L275.99,190.44 L278.46,190.87 L280.93,191.31 L283.40,191.74 L285.86,192.18 L288.33,192.62 L290.80,193.06 L293.27,193.50 L295.73,193.95 L298.20,194.39 L300.67,194.83 L303.13,195.28 L305.60,195.72 L308.07,196.17 L310.54,196.61 L313.00,197.06 L315.47,197.50 L317.94,197.94 L320.40,198.38 L322.87,198.82 L325.34,199.26 L327.81,199.70 L330.28,200.14 L332.74,200.58 L335.21,201.01 L337.68,201.44 L340.15,201.87 L342.62,202.30 L345.09,202.73 L347.56,203.15 L350.03,203.58 L352.50,204.00 L354.97,204.42 L357.44,204.85 L359.92,205.27 L362.39,205.69 L364.86,206.11 L367.33,206.53 L369.80,206.94 L372.27,207.36 L374.74,207.78 L377.22,208.20 L379.69,208.62 L382.16,209.04 L384.63,209.46 L387.10,209.88 L389.57,210.30 L392.04,210.73 L394.51,211.15 L396.98,211.58 L399.45,212.00 L401.92,212.43 L404.39,212.86 L406.86,213.29 L409.33,213.72 L411.80,214.16 L414.27,214.59 L416.73,215.03 L419.20,215.47 L421.67,215.92 L424.13,216.36 L426.60,216.81 L429.07,217.27 L431.53,217.72 L433.99,218.18 L436.46,218.64 L438.92,219.10 L441.38,219.57 L443.84,220.04 L446.31,220.52 L448.77,221.00 L451.22,221.48 L453.68,221.96 L456.14,222.45 L458.60,222.94 L461.06,223.43 L463.52,223.93 L465.97,224.42 L468.43,224.92 L470.89,225.41 L473.34,225.91 L475.80,226.41 L478.26,226.90 L480.72,227.40 L483.17,227.90 L485.63,228.39 L488.09,228.88 L490.55,229.37 L493.00,229.86 L495.46,230.34 L497.92,230.82 L500.38,231.30 L502.84,231.78 L505.31,232.25 L507.77,232.71 L510.23,233.18 L512.70,233.63 L515.16,234.08 L517.63,234.53 L520.09,234.97 L522.56,235.41 L525.03,235.84 L527.50,236.26 L529.97,236.69 L532.44,237.11 L534.91,237.52 L537.38,237.94 L539.86,238.35 L542.33,238.76 L544.80,239.17 L547.27,239.58 L549.75,239.99 L552.22,240.40 L554.69,240.81 L557.17,241.22 L559.64,241.63 L562.11,242.04 L564.58,242.46 L567.05,242.87 L569.52,243.30 L571.99,243.72 L574.46,244.15 L576.93,244.58 L579.40,245.02 L581.87,245.45 L584.34,245.89 L586.80,246.34 L589.27,246.78 L591.74,247.23 L594.20,247.68 L596.67,248.14 L599.13,248.60 L601.60,249.05 L604.06,249.51 L606.52,249.98 L608.99,250.44 L611.45,250.91 L613.91,251.38 L616.37,251.85 L618.84,252.32 L621.30,252.79 L623.76,253.26 L626.22,253.74 L628.68,254.22 L631.14,254.69 L633.60,255.17 L636.06,255.65 L638.52,256.13 L640.98,256.61 L643.44,257.10 L645.90,257.58 L648.36,258.07 L650.82,258.55 L653.28,259.04 L655.74,259.53 L658.19,260.02 L660.65,260.51 L663.11,261.01 L665.57,261.50 L668.02,262.00 L670.48,262.50 L672.94,263.00 L675.39,263.50 L677.85,264.00 L680.30,264.51 L682.76,265.01 L685.21,265.52 L687.67,266.03 L690.12,266.55 L692.57,267.06 L695.02,267.58 L697.48,268.10 L699.93,268.62 L702.38,269.14 L704.83,269.66 L707.28,270.19 L709.73,270.72 L712.18,271.25 L714.63,271.78 L717.08,272.32 L719.53,272.86 L721.98,273.40 L724.42,273.94 L726.87,274.49 L729.32,275.03 L731.76,275.58 L734.21,276.13 L736.65,276.68 L739.10,277.23 L741.55,277.78 L743.99,278.33 L746.44,278.88 L748.88,279.43 L751.33,279.98 L753.77,280.53 L756.22,281.08 L758.67,281.63 L761.11,282.17 L763.56,282.72 L766.01,283.26 L768.45,283.80 L770.90,284.34 L773.35,284.88 L775.80,285.41 L778.25,285.94 L780.70,286.47 L783.15,287.00 L785.60,287.52 L788.05,288.03 L790.51,288.55 L792.96,289.05 L795.42,289.56 L797.87,290.06 L800.33,290.55 L802.79,291.04 L805.25,291.53 L807.71,292.00 L810.17,292.48 L812.63,292.94 L815.10,293.40 L817.56,293.86 L820.03,294.31 L822.50,294.75 L824.96,295.20 L827.43,295.64 L829.90,296.07 L832.37,296.50 L834.84,296.93 L837.31,297.36 L839.78,297.79 L842.26,298.21 L844.73,298.64 L847.20,299.06 L849.67,299.49 L852.14,299.91 L854.61,300.34 L857.08,300.76 L859.55,301.19 L862.02,301.62 L864.49,302.06 L866.96,302.49 L869.43,302.93 L871.90,303.37 L874.36,303.82 L876.83,304.27 L879.29,304.73 L881.75,305.19 L884.21,305.66 L886.67,306.13 L889.13,306.61 L891.59,307.10 L894.05,307.59 L896.50,308.10 L898.95,308.61 L901.40,309.12 L903.85,309.65 L906.30,310.19 L908.74,310.73 L911.18,311.29 L913.62,311.85 L916.06,312.42 L918.50,313.00 L920.93,313.58 L923.37,314.17 L925.80,314.77 L928.23,315.38 L930.66,315.99 L933.09,316.61 L935.52,317.23 L937.94,317.86 L940.37,318.50 L942.79,319.14 L945.21,319.79 L947.63,320.44 L950.05,321.09 L952.47,321.75 L954.89,322.42 L957.31,323.09 L959.72,323.76 L962.14,324.43 L964.55,325.11 L966.97,325.79 L969.38,326.47 L971.80,327.16 L974.21,327.85 L976.62,328.54 L979.03,329.23 L981.44,329.92 L983.86,330.62 L986.27,331.31 L988.68,332.01 L991.09,332.70 L993.50,333.40"/>
<path d="M124.80,195.00 L127.29,195.30 L129.77,195.60 L132.26,195.90 L134.74,196.21 L137.23,196.51 L139.72,196.81 L142.20,197.11 L144.69,197.42 L147.17,197.72 L149.66,198.03 L152.14,198.34 L154.63,198.64 L157.11,198.95 L159.60,199.26 L162.08,199.58 L164.57,199.89 L167.05,200.21 L169.53,200.52 L172.02,200.84 L174.50,201.17 L176.98,201.49 L179.46,201.82 L181.95,202.14 L184.43,202.47 L186.91,202.81 L189.39,203.14 L191.87,203.48 L194.35,203.83 L196.82,204.17 L199.30,204.52 L201.78,204.87 L204.26,205.22 L206.73,205.58 L209.21,205.94 L211.68,206.31 L214.16,206.68 L216.63,207.05 L219.10,207.43 L221.58,207.81 L224.05,208.19 L226.52,208.58 L228.99,208.98 L231.46,209.37 L233.93,209.78 L236.39,210.19 L238.86,210.60 L241.33,211.02 L243.79,211.44 L246.25,211.87 L248.72,212.30 L251.18,212.74 L253.64,213.18 L256.10,213.63 L258.56,214.09 L261.02,214.55 L263.48,215.01 L265.93,215.49 L268.39,215.97 L270.84,216.45 L273.29,216.94 L275.75,217.43 L278.20,217.93 L280.65,218.43 L283.10,218.93 L285.55,219.44 L288.00,219.94 L290.45,220.46 L292.90,220.97 L295.35,221.48 L297.79,222.00 L300.24,222.52 L302.69,223.04 L305.14,223.55 L307.59,224.07 L310.04,224.59 L312.48,225.11 L314.93,225.62 L317.38,226.14 L319.83,226.65 L322.28,227.16 L324.73,227.67 L327.18,228.17 L329.63,228.67 L332.09,229.17 L334.54,229.66 L336.99,230.15 L339.45,230.64 L341.90,231.12 L344.36,231.60 L346.82,232.07 L349.27,232.55 L351.73,233.01 L354.19,233.48 L356.65,233.94 L359.11,234.40 L361.57,234.85 L364.03,235.30 L366.49,235.76 L368.95,236.20 L371.41,236.65 L373.88,237.09 L376.34,237.54 L378.80,237.98 L381.27,238.41 L383.73,238.85 L386.19,239.29 L388.66,239.72 L391.12,240.16 L393.59,240.59 L396.05,241.02 L398.51,241.46 L400.98,241.89 L403.44,242.32 L405.91,242.75 L408.37,243.18 L410.84,243.62 L413.30,244.05 L415.77,244.48 L418.23,244.92 L420.69,245.35 L423.16,245.79 L425.62,246.23 L428.09,246.67 L430.55,247.11 L433.01,247.55 L435.47,247.99 L437.94,248.44 L440.40,248.89 L442.86,249.34 L445.32,249.79 L447.78,250.25 L450.24,250.71 L452.70,251.17 L455.16,251.63 L457.61,252.10 L460.07,252.57 L462.53,253.04 L464.99,253.51 L467.44,253.98 L469.90,254.46 L472.36,254.94 L474.81,255.42 L477.27,255.90 L479.72,256.38 L482.18,256.87 L484.63,257.35 L487.08,257.84 L489.54,258.33 L491.99,258.82 L494.45,259.31 L496.90,259.80 L499.35,260.30 L501.80,260.79 L504.26,261.29 L506.71,261.79 L509.16,262.28 L511.61,262.78 L514.07,263.28 L516.52,263.78 L518.97,264.28 L521.42,264.78 L523.87,265.28 L526.32,265.78 L528.77,266.29 L531.22,266.79 L533.68,267.29 L536.13,267.80 L538.58,268.30 L541.03,268.81 L543.48,269.31 L545.93,269.82 L548.38,270.33 L550.83,270.84 L553.28,271.35 L555.73,271.86 L558.18,272.37 L560.63,272.88 L563.07,273.39 L565.52,273.90 L567.97,274.41 L570.42,274.92 L572.87,275.44 L575.32,275.95 L577.77,276.46 L580.22,276.97 L582.67,277.49 L585.12,278.00 L587.57,278.51 L590.01,279.02 L592.46,279.53 L594.91,280.04 L597.36,280.56 L599.81,281.07 L602.26,281.57 L604.71,282.08 L607.16,282.59 L609.61,283.10 L612.06,283.61 L614.51,284.11 L616.96,284.62 L619.41,285.12 L621.86,285.62 L624.32,286.13 L626.77,286.63 L629.22,287.13 L631.67,287.62 L634.12,288.12 L636.58,288.62 L639.03,289.11 L641.48,289.61 L643.93,290.10 L646.39,290.60 L648.84,291.09 L651.29,291.58 L653.75,292.08 L656.20,292.57 L658.65,293.06 L661.11,293.55 L663.56,294.05 L666.01,294.54 L668.46,295.04 L670.92,295.53 L673.37,296.03 L675.82,296.52 L678.27,297.02 L680.73,297.52 L683.18,298.02 L685.63,298.52 L688.08,299.03 L690.53,299.53 L692.98,300.04 L695.43,300.54 L697.88,301.05 L700.33,301.57 L702.78,302.08 L705.23,302.60 L707.67,303.12 L710.12,303.64 L712.57,304.16 L715.01,304.69 L717.46,305.22 L719.90,305.75 L722.35,306.29 L724.79,306.82 L727.23,307.36 L729.67,307.91 L732.12,308.45 L734.56,309.00 L737.00,309.55 L739.44,310.10 L741.88,310.65 L744.32,311.21 L746.76,311.76 L749.20,312.31 L751.64,312.87 L754.08,313.43 L756.52,313.98 L758.96,314.54 L761.40,315.09 L763.84,315.65 L766.28,316.20 L768.72,316.76 L771.16,317.31 L773.60,317.86 L776.04,318.41 L778.48,318.96 L780.92,319.50 L783.36,320.05 L785.81,320.60 L788.25,321.14 L790.69,321.69 L793.13,322.23 L795.57,322.78 L798.01,323.32 L800.46,323.87 L802.90,324.42 L805.34,324.98 L807.78,325.53 L810.22,326.09 L812.66,326.65 L815.09,327.21 L817.53,327.78 L819.97,328.35 L822.40,328.92 L824.84,329.49 L827.27,330.07 L829.71,330.65 L832.14,331.24 L834.57,331.82 L837.00,332.42 L839.43,333.01 L841.86,333.61 L844.29,334.20 L846.72,334.81 L849.15,335.41 L851.58,336.02 L854.00,336.63 L856.43,337.25 L858.86,337.87 L861.28,338.49 L863.70,339.11 L866.13,339.74 L868.55,340.37 L870.97,341.00 L873.39,341.64 L875.81,342.27 L878.23,342.92 L880.64,343.56 L883.06,344.21 L885.48,344.86 L887.89,345.52 L890.31,346.17 L892.72,346.83 L895.13,347.50 L897.54,348.16 L899.95,348.83 L902.36,349.51 L904.77,350.18 L907.18,350.86 L909.59,351.54 L911.99,352.23 L914.40,352.91 L916.81,353.60 L919.21,354.30 L921.61,354.99 L924.02,355.69 L926.42,356.39 L928.82,357.09 L931.22,357.79 L933.62,358.50 L936.02,359.21 L938.42,359.92 L940.82,360.63 L943.22,361.34 L945.61,362.06 L948.01,362.78 L950.41,363.50 L952.80,364.22 L955.20,364.94 L957.60,365.66 L959.99,366.38 L962.39,367.11 L964.78,367.83 L967.17,368.56 L969.57,369.29 L971.96,370.02 L974.36,370.75 L976.75,371.48 L979.14,372.21 L981.54,372.94 L983.93,373.67 L986.32,374.40 L988.71,375.14 L991.11,375.87 L993.50,376.60"/>
<path d="M124.80,222.80 L127.28,223.16 L129.76,223.52 L132.24,223.88 L134.72,224.25 L137.20,224.61 L139.68,224.97 L142.15,225.33 L144.63,225.69 L147.11,226.06 L149.59,226.42 L152.07,226.79 L154.55,227.15 L157.03,227.51 L159.51,227.88 L161.99,228.25 L164.46,228.61 L166.94,228.98 L169.42,229.35 L171.90,229.72 L174.38,230.09 L176.85,230.46 L179.33,230.83 L181.81,231.21 L184.28,231.58 L186.76,231.96 L189.24,232.34 L191.71,232.71 L194.19,233.09 L196.67,233.48 L199.14,233.86 L201.62,234.24 L204.09,234.63 L206.57,235.01 L209.04,235.40 L211.52,235.79 L213.99,236.18 L216.46,236.58 L218.94,236.97 L221.41,237.37 L223.88,237.77 L226.36,238.17 L228.83,238.57 L231.30,238.98 L233.77,239.39 L236.24,239.79 L238.71,240.21 L241.18,240.62 L243.65,241.04 L246.12,241.45 L248.59,241.87 L251.06,242.30 L253.53,242.72 L256.00,243.15 L258.47,243.58 L260.93,244.02 L263.40,244.45 L265.87,244.89 L268.33,245.33 L270.80,245.77 L273.26,246.22 L275.73,246.67 L278.19,247.12 L280.65,247.58 L283.12,248.03 L285.58,248.49 L288.04,248.95 L290.50,249.42 L292.96,249.89 L295.42,250.36 L297.88,250.83 L300.34,251.30 L302.80,251.78 L305.26,252.26 L307.72,252.74 L310.18,253.22 L312.64,253.71 L315.09,254.20 L317.55,254.69 L320.01,255.18 L322.46,255.68 L324.92,256.18 L327.37,256.68 L329.83,257.18 L332.28,257.68 L334.73,258.19 L337.19,258.70 L339.64,259.21 L342.09,259.72 L344.54,260.24 L347.00,260.75 L349.45,261.27 L351.90,261.78 L354.35,262.30 L356.80,262.82 L359.25,263.33 L361.71,263.85 L364.16,264.36 L366.61,264.87 L369.06,265.38 L371.52,265.89 L373.97,266.40 L376.42,266.90 L378.88,267.40 L381.33,267.90 L383.79,268.39 L386.24,268.88 L388.70,269.37 L391.16,269.85 L393.62,270.33 L396.08,270.80 L398.54,271.26 L401.00,271.72 L403.46,272.18 L405.93,272.63 L408.39,273.07 L410.86,273.51 L413.33,273.94 L415.79,274.36 L418.26,274.78 L420.73,275.20 L423.20,275.61 L425.67,276.02 L428.15,276.43 L430.62,276.84 L433.09,277.24 L435.56,277.64 L438.03,278.05 L440.51,278.45 L442.98,278.85 L445.45,279.26 L447.92,279.67 L450.39,280.08 L452.87,280.49 L455.34,280.90 L457.81,281.32 L460.28,281.75 L462.74,282.17 L465.21,282.61 L467.68,283.04 L470.15,283.49 L472.61,283.93 L475.07,284.38 L477.54,284.84 L480.00,285.30 L482.46,285.76 L484.92,286.23 L487.38,286.71 L489.84,287.19 L492.30,287.67 L494.76,288.16 L497.22,288.65 L499.67,289.14 L502.13,289.65 L504.58,290.15 L507.03,290.66 L509.49,291.18 L511.94,291.70 L514.39,292.22 L516.83,292.75 L519.28,293.28 L521.73,293.82 L524.18,294.36 L526.62,294.91 L529.06,295.46 L531.51,296.02 L533.95,296.58 L536.39,297.14 L538.83,297.71 L541.27,298.29 L543.70,298.87 L546.14,299.45 L548.57,300.04 L551.01,300.63 L553.44,301.23 L555.87,301.83 L558.31,302.43 L560.74,303.03 L563.17,303.64 L565.60,304.24 L568.03,304.85 L570.46,305.46 L572.89,306.07 L575.32,306.67 L577.75,307.28 L580.18,307.89 L582.61,308.49 L585.04,309.09 L587.48,309.69 L589.91,310.29 L592.34,310.88 L594.78,311.47 L597.21,312.05 L599.65,312.63 L602.09,313.21 L604.53,313.78 L606.97,314.34 L609.41,314.90 L611.86,315.45 L614.30,316.00 L616.75,316.54 L619.20,317.08 L621.64,317.61 L624.09,318.14 L626.54,318.66 L628.99,319.19 L631.45,319.71 L633.90,320.22 L636.35,320.74 L638.80,321.25 L641.26,321.76 L643.71,322.27 L646.17,322.78 L648.62,323.29 L651.07,323.80 L653.53,324.30 L655.98,324.81 L658.44,325.32 L660.89,325.83 L663.34,326.34 L665.80,326.85 L668.25,327.37 L670.70,327.88 L673.15,328.40 L675.60,328.93 L678.05,329.45 L680.50,329.98 L682.95,330.51 L685.39,331.05 L687.84,331.59 L690.28,332.14 L692.73,332.69 L695.17,333.25 L697.61,333.81 L700.04,334.38 L702.48,334.96 L704.92,335.54 L707.35,336.13 L709.78,336.73 L712.21,337.34 L714.64,337.95 L717.06,338.57 L719.48,339.20 L721.90,339.84 L724.32,340.49 L726.74,341.14 L729.15,341.81 L731.56,342.48 L733.98,343.16 L736.38,343.84 L738.79,344.53 L741.20,345.22 L743.60,345.92 L746.01,346.62 L748.41,347.33 L750.81,348.04 L753.22,348.75 L755.62,349.47 L758.02,350.18 L760.42,350.90 L762.82,351.62 L765.22,352.34 L767.62,353.06 L770.02,353.78 L772.42,354.50 L774.82,355.21 L777.22,355.93 L779.62,356.64 L782.03,357.35 L784.43,358.05 L786.83,358.76 L789.24,359.46 L791.64,360.16 L794.05,360.85 L796.46,361.55 L798.87,362.23 L801.28,362.92 L803.69,363.60 L806.11,364.28 L808.52,364.95 L810.94,365.62 L813.36,366.28 L815.78,366.94 L818.20,367.60 L820.62,368.25 L823.04,368.90 L825.47,369.55 L827.89,370.20 L830.32,370.85 L832.74,371.50 L835.16,372.15 L837.59,372.80 L840.01,373.46 L842.43,374.11 L844.86,374.77 L847.28,375.43 L849.69,376.10 L852.11,376.77 L854.53,377.45 L856.94,378.13 L859.35,378.82 L861.76,379.51 L864.16,380.22 L866.57,380.93 L868.97,381.65 L871.36,382.37 L873.76,383.11 L876.14,383.86 L878.53,384.62 L880.91,385.39 L883.29,386.17 L885.66,386.97 L888.03,387.77 L890.39,388.59 L892.75,389.43 L895.10,390.28 L897.44,391.14 L899.78,392.02 L902.12,392.92 L904.45,393.83 L906.77,394.76 L909.09,395.71 L911.40,396.67 L913.71,397.64 L916.01,398.62 L918.31,399.61 L920.60,400.62 L922.89,401.63 L925.18,402.65 L927.47,403.68 L929.75,404.72 L932.03,405.76 L934.31,406.80 L936.59,407.85 L938.86,408.90 L941.14,409.95 L943.41,411.00 L945.69,412.05 L947.96,413.11 L950.24,414.16 L952.51,415.22 L954.78,416.27 L957.06,417.32 L959.33,418.38 L961.60,419.43 L963.88,420.48 L966.15,421.53 L968.43,422.58 L970.70,423.62 L972.98,424.67 L975.26,425.71 L977.54,426.75 L979.81,427.79 L982.09,428.83 L984.37,429.87 L986.66,430.90 L988.94,431.93 L991.22,432.97 L993.50,434.00"/>
<path d="M993.50,527.00 L991.23,528.07 L988.97,529.13 L986.70,530.20 L984.44,531.27 L982.17,532.33 L979.91,533.40 L977.64,534.46 L975.37,535.53 L973.11,536.60 L970.84,537.67 L968.57,538.73 L966.30,539.80 L964.04,540.87 L961.77,541.93 L959.50,543.00 L957.22,544.05 L954.95,545.10 L952.67,546.14 L950.38,547.17 L948.09,548.18 L945.80,549.18 L943.49,550.15 L941.18,551.11 L938.86,552.04 L936.53,552.95 L934.19,553.82 L931.85,554.67 L929.48,555.49 L927.11,556.27 L924.73,557.04 L922.34,557.77 L919.95,558.50 L917.55,559.20 L915.14,559.90 L912.73,560.59 L910.32,561.27 L907.91,561.95 L905.50,562.64 L903.09,563.33 L900.69,564.04 L898.29,564.75 L895.89,565.48 L893.49,566.21 L891.10,566.95 L888.71,567.70 L886.32,568.44 L883.93,569.19 L881.53,569.93 L879.14,570.67 L876.75,571.41 L874.35,572.14 L871.96,572.86 L869.56,573.57 L867.15,574.27 L864.75,574.96 L862.33,575.63 L859.92,576.28 L857.50,576.92 L855.07,577.55 L852.65,578.16 L850.22,578.76 L847.78,579.34 L845.34,579.92 L842.90,580.48 L840.46,581.03 L838.01,581.57 L835.57,582.10 L833.12,582.61 L830.66,583.12 L828.21,583.62 L825.75,584.12 L823.29,584.60 L820.83,585.07 L818.37,585.54 L815.91,586.00 L813.45,586.46 L810.99,586.91 L808.52,587.35 L806.06,587.80 L803.59,588.23 L801.12,588.67 L798.66,589.10 L796.19,589.53 L793.72,589.96 L791.25,590.39 L788.79,590.82 L786.32,591.25 L783.85,591.68 L781.39,592.11 L778.92,592.55 L776.45,592.99 L773.99,593.43 L771.53,593.87 L769.06,594.32 L766.60,594.78 L764.14,595.24 L761.68,595.71 L759.22,596.19 L756.76,596.67 L754.31,597.16 L751.85,597.65 L749.40,598.15 L746.94,598.65 L744.49,599.15 L742.04,599.65 L739.59,600.16 L737.13,600.67 L734.68,601.18 L732.23,601.69 L729.78,602.20 L727.33,602.71 L724.87,603.22 L722.42,603.72 L719.97,604.22 L717.51,604.72 L715.06,605.21 L712.60,605.70 L710.15,606.19 L707.69,606.67 L705.23,607.14 L702.77,607.61 L700.31,608.06 L697.85,608.51 L695.38,608.96 L692.92,609.39 L690.45,609.82 L687.98,610.25 L685.52,610.68 L683.05,611.10 L680.58,611.52 L678.11,611.94 L675.65,612.37 L673.18,612.79 L670.71,613.22 L668.25,613.65 L665.78,614.09 L663.32,614.53 L660.85,614.97 L658.39,615.42 L655.92,615.86 L653.46,616.31 L650.99,616.75 L648.53,617.19 L646.07,617.63 L643.60,618.07 L641.13,618.50 L638.67,618.93 L636.20,619.36 L633.73,619.78 L631.26,620.20 L628.79,620.61 L626.32,621.03 L623.85,621.43 L621.38,621.84 L618.91,622.24 L616.44,622.64 L613.97,623.04 L611.49,623.43 L609.02,623.82 L606.55,624.22 L604.07,624.61 L601.60,625.00"/>
<path d="M124.80,249.30 L127.28,249.67 L129.76,250.04 L132.24,250.40 L134.71,250.77 L137.19,251.14 L139.67,251.51 L142.15,251.88 L144.63,252.25 L147.10,252.62 L149.58,252.99 L152.06,253.36 L154.54,253.73 L157.02,254.10 L159.49,254.48 L161.97,254.85 L164.45,255.23 L166.92,255.60 L169.40,255.98 L171.88,256.36 L174.35,256.74 L176.83,257.12 L179.30,257.51 L181.78,257.89 L184.25,258.28 L186.73,258.66 L189.20,259.05 L191.68,259.44 L194.15,259.84 L196.63,260.23 L199.10,260.63 L201.57,261.03 L204.04,261.43 L206.52,261.83 L208.99,262.24 L211.46,262.64 L213.93,263.05 L216.40,263.47 L218.87,263.88 L221.34,264.30 L223.81,264.72 L226.28,265.14 L228.74,265.57 L231.21,265.99 L233.68,266.42 L236.14,266.86 L238.61,267.30 L241.07,267.74 L243.54,268.18 L246.00,268.62 L248.47,269.07 L250.93,269.53 L253.39,269.98 L255.85,270.44 L258.31,270.91 L260.77,271.37 L263.23,271.84 L265.69,272.32 L268.15,272.80 L270.61,273.28 L273.07,273.76 L275.52,274.25 L277.98,274.74 L280.43,275.23 L282.89,275.73 L285.34,276.22 L287.80,276.72 L290.25,277.22 L292.70,277.72 L295.16,278.23 L297.61,278.73 L300.06,279.24 L302.52,279.75 L304.97,280.25 L307.42,280.76 L309.88,281.27 L312.33,281.78 L314.78,282.29 L317.23,282.80 L319.69,283.31 L322.14,283.82 L324.59,284.32 L327.04,284.83 L329.50,285.33 L331.95,285.84 L334.41,286.34 L336.86,286.84 L339.31,287.34 L341.77,287.84 L344.22,288.33 L346.68,288.83 L349.14,289.32 L351.59,289.81 L354.05,290.30 L356.50,290.79 L358.96,291.28 L361.42,291.77 L363.88,292.25 L366.33,292.74 L368.79,293.23 L371.25,293.71 L373.70,294.20 L376.16,294.69 L378.62,295.18 L381.07,295.67 L383.53,296.16 L385.98,296.65 L388.44,297.14 L390.89,297.64 L393.35,298.13 L395.80,298.63 L398.26,299.13 L400.71,299.63 L403.16,300.14 L405.62,300.65 L408.07,301.16 L410.52,301.67 L412.97,302.19 L415.42,302.70 L417.87,303.22 L420.32,303.74 L422.77,304.26 L425.22,304.79 L427.67,305.31 L430.12,305.83 L432.57,306.35 L435.02,306.87 L437.47,307.39 L439.92,307.90 L442.37,308.42 L444.82,308.93 L447.28,309.44 L449.73,309.95 L452.18,310.45 L454.64,310.95 L457.09,311.44 L459.55,311.93 L462.01,312.41 L464.47,312.89 L466.93,313.37 L469.39,313.83 L471.85,314.30 L474.31,314.76 L476.78,315.22 L479.24,315.68 L481.70,316.14 L484.17,316.60 L486.63,317.07 L489.09,317.54 L491.54,318.02 L494.00,318.51 L496.45,319.00 L498.90,319.51 L501.35,320.03 L503.80,320.56 L506.24,321.10 L508.68,321.67 L511.11,322.25 L513.54,322.84 L515.97,323.46 L518.39,324.09 L520.81,324.73 L523.22,325.38 L525.64,326.04 L528.05,326.71 L530.46,327.39 L532.87,328.07 L535.28,328.75 L537.69,329.43 L540.10,330.10 L542.52,330.78 L544.93,331.44 L547.35,332.10 L549.76,332.75 L552.18,333.40 L554.61,334.04 L557.03,334.67 L559.45,335.29 L561.88,335.92 L564.31,336.53 L566.74,337.14 L569.17,337.75 L571.60,338.35 L574.03,338.95 L576.46,339.55 L578.90,340.15 L581.33,340.74 L583.77,341.33 L586.20,341.92 L588.64,342.50 L591.07,343.09 L593.51,343.68 L595.94,344.26 L598.38,344.85 L600.81,345.43 L603.25,346.02 L605.68,346.61 L608.12,347.20 L610.55,347.79 L612.98,348.39 L615.41,348.99 L617.85,349.59 L620.28,350.19 L622.71,350.80 L625.13,351.41 L627.56,352.03 L629.99,352.65 L632.41,353.28 L634.83,353.91 L637.25,354.55 L639.67,355.19 L642.09,355.83 L644.51,356.48 L646.93,357.14 L649.34,357.79 L651.76,358.45 L654.17,359.11 L656.59,359.78 L659.00,360.44 L661.41,361.11 L663.83,361.79 L666.24,362.46 L668.65,363.14 L671.06,363.81 L673.47,364.49 L675.88,365.17 L678.29,365.85 L680.70,366.53 L683.11,367.22 L685.52,367.90 L687.93,368.58 L690.34,369.26 L692.75,369.94 L695.17,370.63 L697.58,371.31 L699.99,371.99 L702.40,372.66 L704.81,373.34 L707.23,374.01 L709.64,374.69 L712.06,375.36 L714.47,376.03 L716.89,376.69 L719.30,377.36 L721.72,378.02 L724.14,378.68 L726.56,379.33 L728.98,379.99 L731.40,380.65 L733.82,381.31 L736.24,381.97 L738.65,382.63 L741.07,383.30 L743.48,383.97 L745.90,384.65 L748.31,385.33 L750.71,386.02 L753.12,386.72 L755.52,387.42 L757.92,388.14 L760.32,388.86 L762.71,389.60 L765.10,390.34 L767.49,391.10 L769.87,391.87 L772.25,392.66 L774.62,393.46 L776.98,394.28 L779.34,395.11 L781.70,395.96 L784.05,396.82 L786.39,397.70 L788.73,398.59 L791.07,399.49 L793.40,400.41 L795.72,401.34 L798.04,402.29 L800.36,403.25 L802.67,404.22 L804.97,405.20 L807.27,406.19 L809.57,407.19 L811.86,408.21 L814.15,409.23 L816.43,410.26 L818.71,411.30 L820.99,412.34 L823.27,413.38 L825.54,414.43 L827.82,415.48 L830.10,416.53 L832.37,417.57 L834.65,418.61 L836.94,419.64 L839.22,420.67 L841.51,421.69 L843.80,422.71 L846.10,423.71 L848.39,424.72 L850.68,425.74 L852.97,426.76 L855.25,427.79 L857.53,428.83 L859.79,429.89 L862.05,430.97 L864.29,432.08 L866.52,433.21 L868.73,434.37 L870.92,435.57 L873.09,436.81 L875.23,438.08 L877.36,439.40 L879.46,440.75 L881.54,442.14 L883.61,443.56 L885.66,445.00 L887.70,446.48 L889.72,447.97 L891.73,449.49 L893.74,451.02 L895.73,452.57 L897.71,454.15 L899.66,455.75 L901.59,457.38 L903.49,459.05 L905.36,460.76 L907.17,462.52 L908.94,464.32 L910.64,466.18 L912.27,468.10 L913.82,470.08 L915.25,472.13 L916.55,474.26 L917.69,476.47 L918.64,478.76 L919.40,481.11 L919.94,483.51 L920.27,485.94 L920.35,488.39 L920.21,490.83 L919.83,493.25 L919.23,495.64 L918.44,497.98 L917.47,500.27 L916.34,502.50 L915.08,504.65 L913.69,506.74 L912.19,508.75 L910.58,510.69 L908.89,512.54 L907.11,514.32 L905.26,516.03 L903.35,517.68 L901.40,519.28 L899.40,520.83 L897.38,522.33 L895.33,523.80 L893.25,525.23 L891.15,526.63 L889.04,528.01 L886.92,529.36 L884.78,530.69 L882.63,531.99 L880.46,533.27 L878.29,534.52 L876.10,535.75 L873.90,536.96 L871.68,538.14 L869.46,539.30 L867.23,540.44 L864.98,541.55 L862.72,542.65 L860.46,543.72 L858.19,544.77 L855.90,545.80 L853.61,546.81 L851.31,547.81 L849.00,548.78 L846.69,549.74 L844.36,550.67 L842.03,551.59 L839.70,552.49 L837.36,553.38 L835.01,554.25 L832.65,555.11 L830.29,555.95 L827.93,556.78 L825.56,557.59 L823.19,558.40 L820.81,559.19 L818.43,559.98 L816.05,560.75 L813.67,561.52 L811.28,562.28 L808.89,563.03 L806.50,563.78 L804.10,564.52 L801.71,565.25 L799.31,565.98 L796.92,566.71 L794.52,567.43 L792.12,568.15 L789.72,568.86 L787.31,569.57 L784.91,570.28 L782.51,570.99 L780.10,571.69 L777.70,572.39 L775.30,573.09 L772.89,573.79 L770.49,574.49 L768.08,575.19 L765.67,575.88 L763.27,576.57 L760.86,577.25 L758.45,577.93 L756.04,578.60 L753.62,579.27 L751.21,579.94 L748.79,580.60 L746.38,581.25 L743.96,581.91 L741.54,582.56 L739.12,583.21 L736.70,583.86 L734.28,584.51 L731.86,585.15 L729.44,585.79 L727.02,586.43 L724.60,587.07 L722.18,587.70 L719.75,588.33 L717.33,588.95 L714.90,589.57 L712.47,590.18 L710.04,590.79 L707.61,591.39 L705.18,591.98 L702.74,592.57 L700.31,593.15 L697.87,593.72 L695.43,594.28 L692.99,594.84 L690.55,595.39 L688.10,595.94 L685.66,596.48 L683.21,597.02 L680.77,597.56 L678.32,598.10 L675.87,598.64 L673.43,599.17 L670.98,599.71 L668.53,600.25 L666.09,600.79 L663.64,601.33 L661.20,601.87 L658.75,602.42 L656.31,602.96 L653.86,603.51 L651.42,604.05 L648.98,604.60 L646.53,605.14 L644.08,605.68 L641.64,606.22 L639.19,606.76 L636.75,607.30 L634.30,607.83 L631.86,608.37 L629.41,608.91 L626.96,609.45 L624.52,609.98 L622.07,610.52 L619.62,611.05 L617.18,611.59 L614.73,612.12 L612.28,612.65 L609.83,613.18 L607.39,613.71 L604.94,614.24 L602.49,614.76 L600.04,615.28 L597.59,615.80 L595.14,616.31 L592.68,616.82 L590.23,617.33 L587.78,617.83 L585.32,618.33 L582.87,618.83 L580.41,619.32 L577.96,619.80 L575.50,620.28 L573.04,620.76 L570.58,621.24 L568.12,621.72 L565.66,622.19 L563.20,622.66 L560.74,623.13 L558.28,623.60 L555.82,624.07 L553.36,624.53 L550.90,625.00"/>
<path d="M124.80,275.30 L127.28,275.62 L129.77,275.95 L132.25,276.27 L134.74,276.60 L137.22,276.93 L139.70,277.25 L142.19,277.58 L144.67,277.91 L147.15,278.24 L149.64,278.57 L152.12,278.90 L154.60,279.24 L157.08,279.58 L159.56,279.91 L162.04,280.26 L164.52,280.60 L167.00,280.94 L169.48,281.29 L171.96,281.64 L174.44,282.00 L176.92,282.36 L179.39,282.72 L181.87,283.08 L184.35,283.45 L186.82,283.82 L189.29,284.20 L191.77,284.58 L194.24,284.96 L196.71,285.35 L199.18,285.74 L201.65,286.14 L204.12,286.54 L206.58,286.95 L209.05,287.36 L211.51,287.78 L213.98,288.20 L216.44,288.63 L218.90,289.07 L221.36,289.51 L223.82,289.96 L226.28,290.41 L228.73,290.87 L231.19,291.34 L233.64,291.81 L236.09,292.29 L238.55,292.78 L240.99,293.27 L243.44,293.78 L245.89,294.29 L248.33,294.80 L250.77,295.33 L253.22,295.86 L255.66,296.40 L258.09,296.95 L260.53,297.51 L262.96,298.08 L265.40,298.65 L267.83,299.24 L270.26,299.82 L272.68,300.42 L275.11,301.02 L277.54,301.62 L279.97,302.22 L282.39,302.82 L284.82,303.42 L287.25,304.02 L289.68,304.62 L292.11,305.22 L294.54,305.81 L296.97,306.39 L299.40,306.97 L301.83,307.54 L304.27,308.10 L306.71,308.65 L309.15,309.19 L311.59,309.72 L314.04,310.24 L316.49,310.75 L318.93,311.26 L321.38,311.76 L323.83,312.26 L326.29,312.75 L328.74,313.24 L331.19,313.73 L333.64,314.21 L336.10,314.69 L338.55,315.17 L341.01,315.65 L343.46,316.13 L345.92,316.61 L348.37,317.09 L350.82,317.58 L353.27,318.07 L355.73,318.57 L358.18,319.06 L360.63,319.57 L363.07,320.08 L365.52,320.59 L367.97,321.11 L370.41,321.63 L372.86,322.16 L375.30,322.69 L377.74,323.23 L380.18,323.77 L382.62,324.31 L385.06,324.85 L387.50,325.40 L389.94,325.96 L392.38,326.51 L394.82,327.07 L397.25,327.63 L399.69,328.19 L402.13,328.76 L404.56,329.33 L407.00,329.90 L409.43,330.47 L411.87,331.04 L414.30,331.61 L416.73,332.19 L419.17,332.77 L421.60,333.34 L424.03,333.92 L426.47,334.50 L428.90,335.08 L431.33,335.66 L433.76,336.24 L436.20,336.82 L438.63,337.40 L441.06,337.98 L443.50,338.56 L445.93,339.14 L448.36,339.72 L450.80,340.30 L453.23,340.87 L455.66,341.45 L458.10,342.03 L460.53,342.60 L462.97,343.18 L465.40,343.75 L467.83,344.33 L470.27,344.91 L472.70,345.48 L475.13,346.06 L477.57,346.64 L480.00,347.22 L482.43,347.79 L484.87,348.37 L487.30,348.95 L489.73,349.53 L492.16,350.12 L494.59,350.70 L497.03,351.28 L499.46,351.87 L501.89,352.46 L504.32,353.05 L506.75,353.64 L509.18,354.23 L511.61,354.83 L514.03,355.42 L516.46,356.02 L518.89,356.62 L521.31,357.22 L523.74,357.83 L526.17,358.44 L528.59,359.05 L531.01,359.66 L533.44,360.28 L535.86,360.90 L538.28,361.52 L540.70,362.15 L543.12,362.77 L545.54,363.41 L547.96,364.04 L550.38,364.68 L552.79,365.32 L555.21,365.97 L557.62,366.61 L560.04,367.27 L562.45,367.92 L564.86,368.58 L567.27,369.24 L569.68,369.91 L572.09,370.57 L574.50,371.25 L576.91,371.92 L579.32,372.60 L581.72,373.28 L584.13,373.97 L586.53,374.65 L588.93,375.35 L591.34,376.04 L593.74,376.74 L596.14,377.44 L598.54,378.15 L600.94,378.85 L603.33,379.57 L605.73,380.28 L608.13,381.00 L610.52,381.72 L612.92,382.45 L615.31,383.17 L617.70,383.91 L620.09,384.64 L622.48,385.38 L624.87,386.12 L627.26,386.87 L629.65,387.61 L632.03,388.37 L634.42,389.12 L636.80,389.88 L639.19,390.64 L641.57,391.41 L643.95,392.18 L646.33,392.96 L648.71,393.74 L651.08,394.52 L653.46,395.31 L655.83,396.10 L658.20,396.90 L660.57,397.71 L662.94,398.52 L665.31,399.33 L667.67,400.15 L670.03,400.98 L672.39,401.81 L674.75,402.65 L677.10,403.49 L679.45,404.34 L681.80,405.20 L684.15,406.06 L686.50,406.93 L688.84,407.81 L691.18,408.69 L693.52,409.59 L695.85,410.48 L698.18,411.39 L700.51,412.30 L702.83,413.23 L705.16,414.16 L707.47,415.09 L709.79,416.04 L712.10,416.99 L714.41,417.96 L716.72,418.93 L719.02,419.91 L721.31,420.89 L723.61,421.89 L725.90,422.90 L728.19,423.92 L730.47,424.94 L732.74,425.98 L735.02,427.02 L737.29,428.08 L739.55,429.15 L741.81,430.23 L744.06,431.31 L746.31,432.41 L748.55,433.52 L750.78,434.64 L753.01,435.78 L755.24,436.92 L757.45,438.08 L759.66,439.25 L761.87,440.43 L764.06,441.63 L766.25,442.84 L768.43,444.07 L770.59,445.33 L772.74,446.61 L774.87,447.91 L776.99,449.25 L779.09,450.62 L781.17,452.01 L783.24,453.43 L785.29,454.88 L787.32,456.35 L789.34,457.85 L791.34,459.37 L793.33,460.91 L795.30,462.48 L797.24,464.09 L799.13,465.74 L800.97,467.45 L802.75,469.22 L804.46,471.05 L806.08,472.96 L807.60,474.94 L809.02,476.99 L810.32,479.12 L811.49,481.33 L812.52,483.60 L813.40,485.92 L814.11,488.31 L814.64,490.73 L814.99,493.19 L815.15,495.66 L815.11,498.13 L814.88,500.60 L814.46,503.03 L813.83,505.42 L813.01,507.74 L812.01,510.00 L810.85,512.19 L809.53,514.30 L808.08,516.32 L806.51,518.26 L804.84,520.13 L803.08,521.92 L801.25,523.64 L799.36,525.30 L797.42,526.89 L795.43,528.42 L793.40,529.91 L791.33,531.34 L789.24,532.73 L787.12,534.08 L784.98,535.40 L782.82,536.68 L780.64,537.94 L778.45,539.17 L776.25,540.39 L774.05,541.58 L771.83,542.76 L769.61,543.92 L767.38,545.07 L765.14,546.20 L762.90,547.32 L760.65,548.42 L758.40,549.52 L756.14,550.60 L753.88,551.67 L751.61,552.73 L749.34,553.78 L747.07,554.83 L744.80,555.88 L742.53,556.92 L740.25,557.96 L737.98,559.01 L735.70,560.05 L733.43,561.08 L731.15,562.11 L728.87,563.14 L726.58,564.16 L724.30,565.16 L722.00,566.16 L719.70,567.14 L717.40,568.10 L715.09,569.05 L712.77,569.99 L710.44,570.90 L708.11,571.80 L705.77,572.69 L703.43,573.56 L701.08,574.41 L698.73,575.25 L696.36,576.07 L694.00,576.87 L691.63,577.66 L689.25,578.43 L686.87,579.19 L684.48,579.94 L682.09,580.67 L679.70,581.39 L677.30,582.10 L674.90,582.79 L672.49,583.48 L670.08,584.16 L667.68,584.83 L665.26,585.49 L662.85,586.15 L660.44,586.80 L658.02,587.45 L655.60,588.09 L653.18,588.72 L650.76,589.36 L648.34,589.99 L645.92,590.62 L643.50,591.25 L641.08,591.88 L638.66,592.51 L636.24,593.15 L633.82,593.78 L631.41,594.42 L628.99,595.06 L626.57,595.70 L624.15,596.34 L621.74,596.99 L619.32,597.64 L616.91,598.29 L614.50,598.94 L612.08,599.59 L609.67,600.25 L607.25,600.90 L604.84,601.55 L602.42,602.20 L600.01,602.84 L597.59,603.49 L595.18,604.13 L592.76,604.77 L590.34,605.40 L587.92,606.03 L585.50,606.65 L583.07,607.26 L580.65,607.86 L578.22,608.46 L575.79,609.04 L573.36,609.61 L570.92,610.18 L568.48,610.73 L566.04,611.27 L563.60,611.80 L561.16,612.33 L558.71,612.85 L556.27,613.36 L553.82,613.87 L551.37,614.38 L548.92,614.89 L546.47,615.40 L544.03,615.91 L541.58,616.42 L539.13,616.93 L536.69,617.45 L534.24,617.97 L531.80,618.50 L529.35,619.03 L526.91,619.56 L524.47,620.10 L522.02,620.64 L519.58,621.18 L517.14,621.72 L514.70,622.26 L512.26,622.81 L509.82,623.36 L507.38,623.90 L504.94,624.45 L502.50,625.00"/>
<path d="M124.80,302.20 L127.27,302.62 L129.74,303.03 L132.21,303.45 L134.68,303.87 L137.15,304.29 L139.61,304.71 L142.08,305.12 L144.55,305.54 L147.02,305.96 L149.49,306.38 L151.96,306.80 L154.43,307.22 L156.89,307.64 L159.36,308.06 L161.83,308.48 L164.30,308.91 L166.77,309.33 L169.24,309.75 L171.70,310.18 L174.17,310.60 L176.64,311.03 L179.11,311.46 L181.57,311.89 L184.04,312.32 L186.51,312.75 L188.97,313.18 L191.44,313.61 L193.91,314.05 L196.37,314.48 L198.84,314.92 L201.30,315.36 L203.77,315.80 L206.23,316.24 L208.70,316.68 L211.16,317.12 L213.63,317.57 L216.09,318.01 L218.55,318.46 L221.02,318.91 L223.48,319.36 L225.94,319.82 L228.40,320.27 L230.87,320.73 L233.33,321.19 L235.79,321.65 L238.25,322.11 L240.71,322.58 L243.17,323.05 L245.63,323.52 L248.09,323.99 L250.55,324.46 L253.01,324.94 L255.47,325.42 L257.92,325.90 L260.38,326.39 L262.84,326.88 L265.29,327.38 L267.74,327.87 L270.20,328.38 L272.65,328.88 L275.10,329.40 L277.55,329.91 L280.00,330.43 L282.45,330.96 L284.90,331.49 L287.34,332.03 L289.78,332.58 L292.23,333.13 L294.67,333.68 L297.11,334.25 L299.55,334.82 L301.98,335.39 L304.42,335.97 L306.85,336.56 L309.29,337.15 L311.72,337.74 L314.15,338.33 L316.58,338.93 L319.02,339.53 L321.45,340.13 L323.88,340.73 L326.31,341.33 L328.74,341.94 L331.17,342.54 L333.60,343.13 L336.03,343.73 L338.46,344.32 L340.90,344.91 L343.33,345.50 L345.76,346.09 L348.20,346.68 L350.63,347.26 L353.07,347.84 L355.50,348.42 L357.94,349.00 L360.37,349.57 L362.81,350.15 L365.25,350.72 L367.68,351.29 L370.12,351.87 L372.56,352.44 L375.00,353.01 L377.43,353.58 L379.87,354.15 L382.31,354.71 L384.75,355.28 L387.18,355.85 L389.62,356.42 L392.06,356.99 L394.50,357.55 L396.94,358.12 L399.38,358.69 L401.81,359.26 L404.25,359.83 L406.69,360.40 L409.13,360.97 L411.57,361.54 L414.01,362.11 L416.44,362.68 L418.88,363.26 L421.32,363.84 L423.76,364.41 L426.19,364.99 L428.63,365.57 L431.07,366.16 L433.51,366.74 L435.94,367.33 L438.38,367.91 L440.81,368.50 L443.25,369.10 L445.68,369.69 L448.12,370.29 L450.55,370.89 L452.99,371.49 L455.42,372.10 L457.85,372.71 L460.28,373.32 L462.71,373.94 L465.14,374.56 L467.57,375.19 L470.00,375.81 L472.42,376.45 L474.85,377.08 L477.27,377.73 L479.70,378.37 L482.12,379.02 L484.54,379.68 L486.95,380.34 L489.37,381.01 L491.78,381.68 L494.20,382.36 L496.61,383.05 L499.01,383.74 L501.42,384.44 L503.82,385.14 L506.22,385.85 L508.62,386.57 L511.02,387.30 L513.41,388.03 L515.81,388.77 L518.19,389.51 L520.58,390.27 L522.96,391.03 L525.34,391.80 L527.72,392.58 L530.09,393.37 L532.47,394.17 L534.83,394.97 L537.20,395.78 L539.56,396.61 L541.92,397.44 L544.27,398.28 L546.62,399.13 L548.97,399.99 L551.32,400.85 L553.66,401.71 L556.01,402.57 L558.36,403.42 L560.72,404.26 L563.07,405.10 L565.43,405.93 L567.79,406.75 L570.15,407.57 L572.52,408.39 L574.88,409.21 L577.25,410.02 L579.61,410.84 L581.98,411.66 L584.34,412.48 L586.71,413.30 L589.07,414.13 L591.43,414.96 L593.79,415.80 L596.15,416.65 L598.50,417.50 L600.85,418.37 L603.20,419.24 L605.54,420.12 L607.88,421.01 L610.22,421.92 L612.55,422.83 L614.88,423.76 L617.20,424.70 L619.52,425.65 L621.83,426.61 L624.14,427.58 L626.44,428.57 L628.73,429.57 L631.02,430.58 L633.31,431.61 L635.58,432.65 L637.85,433.71 L640.11,434.78 L642.37,435.87 L644.62,436.97 L646.86,438.09 L649.09,439.22 L651.32,440.37 L653.53,441.53 L655.74,442.71 L657.94,443.91 L660.13,445.12 L662.31,446.35 L664.49,447.59 L666.65,448.85 L668.81,450.13 L670.95,451.42 L673.09,452.73 L675.23,454.05 L677.35,455.39 L679.46,456.74 L681.57,458.10 L683.67,459.48 L685.76,460.88 L687.83,462.30 L689.89,463.74 L691.93,465.21 L693.95,466.71 L695.96,468.23 L697.93,469.79 L699.87,471.39 L701.76,473.05 L703.60,474.75 L705.36,476.53 L707.05,478.38 L708.66,480.30 L710.17,482.31 L711.57,484.39 L712.86,486.54 L714.03,488.76 L715.08,491.05 L715.99,493.40 L716.74,495.80 L717.34,498.23 L717.75,500.70 L717.98,503.18 L718.00,505.67 L717.82,508.15 L717.44,510.61 L716.85,513.02 L716.07,515.37 L715.10,517.65 L713.96,519.87 L712.67,522.01 L711.25,524.07 L709.71,526.06 L708.09,527.97 L706.38,529.82 L704.59,531.59 L702.75,533.31 L700.86,534.98 L698.92,536.59 L696.96,538.17 L694.96,539.70 L692.93,541.20 L690.89,542.66 L688.82,544.10 L686.74,545.50 L684.64,546.88 L682.52,548.23 L680.39,549.54 L678.24,550.83 L676.07,552.09 L673.89,553.31 L671.69,554.51 L669.48,555.69 L667.27,556.85 L665.04,558.00 L662.80,559.13 L660.56,560.25 L658.32,561.36 L656.07,562.46 L653.81,563.54 L651.55,564.62 L649.28,565.68 L647.00,566.72 L644.72,567.75 L642.43,568.76 L640.13,569.76 L637.83,570.74 L635.52,571.71 L633.21,572.66 L630.89,573.60 L628.56,574.52 L626.23,575.43 L623.89,576.33 L621.55,577.22 L619.20,578.09 L616.85,578.94 L614.49,579.79 L612.13,580.62 L609.76,581.44 L607.39,582.25 L605.02,583.04 L602.64,583.83 L600.26,584.60 L597.87,585.36 L595.48,586.11 L593.09,586.86 L590.70,587.59 L588.30,588.32 L585.91,589.05 L583.51,589.77 L581.11,590.49 L578.71,591.21 L576.32,591.94 L573.92,592.67 L571.52,593.40 L569.13,594.14 L566.74,594.88 L564.35,595.62 L561.96,596.37 L559.57,597.11 L557.18,597.86 L554.79,598.60 L552.39,599.34 L550.00,600.08 L547.61,600.81 L545.21,601.53 L542.81,602.25 L540.41,602.96 L538.01,603.66 L535.60,604.35 L533.19,605.03 L530.78,605.70 L528.37,606.37 L525.95,607.03 L523.54,607.68 L521.12,608.33 L518.70,608.97 L516.28,609.61 L513.86,610.24 L511.43,610.88 L509.01,611.51 L506.59,612.14 L504.16,612.76 L501.74,613.39 L499.31,614.02 L496.89,614.65 L494.46,615.27 L492.04,615.90 L489.61,616.52 L487.19,617.14 L484.76,617.76 L482.34,618.38 L479.91,618.99 L477.48,619.60 L475.05,620.21 L472.62,620.81 L470.19,621.42 L467.76,622.02 L465.33,622.62 L462.90,623.21 L460.46,623.81 L458.03,624.40 L455.60,625.00"/>
<path d="M124.80,328.00 L127.27,328.38 L129.75,328.76 L132.22,329.14 L134.70,329.53 L137.17,329.91 L139.65,330.30 L142.12,330.68 L144.59,331.07 L147.07,331.46 L149.54,331.86 L152.01,332.25 L154.48,332.65 L156.95,333.05 L159.42,333.46 L161.89,333.87 L164.36,334.28 L166.83,334.70 L169.29,335.13 L171.76,335.55 L174.22,335.99 L176.69,336.43 L179.15,336.87 L181.61,337.32 L184.07,337.78 L186.53,338.24 L188.99,338.71 L191.45,339.19 L193.90,339.67 L196.36,340.15 L198.81,340.65 L201.27,341.14 L203.72,341.64 L206.17,342.15 L208.62,342.66 L211.07,343.17 L213.52,343.68 L215.97,344.20 L218.42,344.72 L220.87,345.24 L223.31,345.76 L225.76,346.29 L228.21,346.81 L230.66,347.34 L233.11,347.86 L235.55,348.39 L238.00,348.91 L240.45,349.44 L242.90,349.96 L245.35,350.48 L247.80,351.00 L250.24,351.52 L252.69,352.03 L255.14,352.55 L257.59,353.06 L260.05,353.57 L262.50,354.08 L264.95,354.58 L267.40,355.08 L269.86,355.59 L272.31,356.08 L274.76,356.58 L277.22,357.08 L279.67,357.58 L282.13,358.08 L284.58,358.58 L287.03,359.07 L289.49,359.58 L291.94,360.08 L294.39,360.58 L296.85,361.09 L299.30,361.60 L301.75,362.11 L304.20,362.63 L306.65,363.15 L309.09,363.67 L311.54,364.20 L313.98,364.74 L316.43,365.28 L318.87,365.82 L321.31,366.37 L323.75,366.93 L326.19,367.50 L328.62,368.07 L331.06,368.65 L333.49,369.24 L335.92,369.84 L338.34,370.44 L340.77,371.06 L343.19,371.68 L345.61,372.31 L348.03,372.95 L350.45,373.60 L352.86,374.25 L355.27,374.91 L357.68,375.58 L360.09,376.26 L362.50,376.94 L364.90,377.63 L367.31,378.32 L369.71,379.03 L372.11,379.73 L374.51,380.45 L376.91,381.17 L379.30,381.89 L381.70,382.62 L384.09,383.36 L386.48,384.10 L388.87,384.85 L391.26,385.60 L393.65,386.35 L396.04,387.11 L398.42,387.88 L400.81,388.64 L403.19,389.41 L405.57,390.19 L407.96,390.97 L410.34,391.75 L412.72,392.53 L415.09,393.32 L417.47,394.11 L419.85,394.90 L422.23,395.69 L424.60,396.49 L426.98,397.29 L429.35,398.09 L431.73,398.89 L434.10,399.69 L436.47,400.49 L438.85,401.30 L441.22,402.10 L443.59,402.91 L445.96,403.72 L448.34,404.52 L450.71,405.33 L453.08,406.14 L455.45,406.95 L457.82,407.76 L460.18,408.58 L462.55,409.40 L464.91,410.22 L467.28,411.05 L469.64,411.88 L471.99,412.72 L474.35,413.57 L476.70,414.42 L479.05,415.28 L481.40,416.14 L483.75,417.02 L486.09,417.90 L488.43,418.79 L490.76,419.69 L493.09,420.60 L495.42,421.52 L497.74,422.45 L500.06,423.39 L502.38,424.33 L504.69,425.29 L507.00,426.25 L509.31,427.21 L511.62,428.18 L513.92,429.16 L516.22,430.14 L518.53,431.12 L520.83,432.11 L523.13,433.10 L525.43,434.09 L527.73,435.08 L530.03,436.07 L532.33,437.06 L534.63,438.05 L536.93,439.04 L539.23,440.02 L541.54,441.01 L543.84,441.99 L546.15,442.97 L548.45,443.95 L550.75,444.93 L553.05,445.92 L555.34,446.92 L557.63,447.94 L559.91,448.98 L562.18,450.03 L564.44,451.11 L566.68,452.21 L568.92,453.33 L571.14,454.48 L573.36,455.65 L575.55,456.84 L577.74,458.06 L579.92,459.30 L582.08,460.56 L584.22,461.85 L586.36,463.16 L588.47,464.50 L590.58,465.87 L592.66,467.26 L594.73,468.68 L596.78,470.13 L598.81,471.60 L600.82,473.11 L602.81,474.64 L604.77,476.21 L606.70,477.82 L608.59,479.47 L610.45,481.16 L612.26,482.90 L614.02,484.70 L615.73,486.55 L617.38,488.45 L618.96,490.42 L620.45,492.45 L621.86,494.54 L623.16,496.69 L624.34,498.90 L625.39,501.18 L626.31,503.52 L627.06,505.91 L627.66,508.35 L628.07,510.81 L628.29,513.29 L628.30,515.77 L628.11,518.25 L627.72,520.70 L627.12,523.10 L626.33,525.45 L625.35,527.73 L624.20,529.94 L622.91,532.08 L621.49,534.14 L619.95,536.14 L618.33,538.06 L616.63,539.92 L614.86,541.72 L613.04,543.47 L611.18,545.18 L609.29,546.84 L607.36,548.46 L605.41,550.04 L603.42,551.56 L601.39,553.03 L599.33,554.44 L597.23,555.79 L595.10,557.10 L592.94,558.35 L590.75,559.57 L588.55,560.75 L586.33,561.91 L584.09,563.05 L581.85,564.17 L579.61,565.29 L577.36,566.40 L575.11,567.51 L572.86,568.62 L570.61,569.72 L568.36,570.83 L566.10,571.92 L563.85,573.01 L561.59,574.10 L559.33,575.19 L557.08,576.27 L554.81,577.34 L552.55,578.41 L550.28,579.47 L548.01,580.51 L545.73,581.54 L543.44,582.55 L541.15,583.54 L538.85,584.50 L536.53,585.44 L534.21,586.36 L531.88,587.26 L529.54,588.14 L527.19,589.01 L524.84,589.86 L522.48,590.70 L520.12,591.53 L517.76,592.35 L515.40,593.17 L513.03,593.97 L510.65,594.77 L508.28,595.56 L505.90,596.34 L503.52,597.11 L501.14,597.88 L498.75,598.64 L496.36,599.40 L493.97,600.15 L491.58,600.89 L489.19,601.63 L486.79,602.37 L484.40,603.10 L482.00,603.82 L479.60,604.55 L477.20,605.27 L474.80,605.98 L472.40,606.70 L470.00,607.41 L467.60,608.12 L465.20,608.82 L462.80,609.52 L460.39,610.22 L457.99,610.92 L455.58,611.62 L453.18,612.31 L450.77,613.00 L448.37,613.69 L445.96,614.38 L443.56,615.06 L441.15,615.75 L438.74,616.43 L436.34,617.11 L433.93,617.80 L431.53,618.48 L429.13,619.18 L426.72,619.87 L424.33,620.58 L421.93,621.29 L419.54,622.02 L417.15,622.75 L414.77,623.50 L412.38,624.25 L410.00,625.00"/>
<path d="M124.80,355.40 L127.27,355.82 L129.73,356.23 L132.20,356.65 L134.67,357.07 L137.13,357.48 L139.60,357.90 L142.07,358.32 L144.53,358.74 L147.00,359.16 L149.46,359.58 L151.93,360.01 L154.39,360.43 L156.86,360.85 L159.32,361.28 L161.79,361.71 L164.25,362.14 L166.72,362.57 L169.18,363.00 L171.64,363.44 L174.10,363.87 L176.57,364.31 L179.03,364.76 L181.49,365.20 L183.95,365.65 L186.41,366.09 L188.87,366.55 L191.33,367.00 L193.79,367.46 L196.25,367.92 L198.70,368.38 L201.16,368.85 L203.62,369.32 L206.07,369.80 L208.53,370.27 L210.98,370.75 L213.43,371.24 L215.89,371.73 L218.34,372.22 L220.79,372.72 L223.24,373.22 L225.69,373.73 L228.14,374.24 L230.58,374.75 L233.03,375.27 L235.48,375.79 L237.92,376.32 L240.36,376.86 L242.81,377.40 L245.25,377.94 L247.69,378.49 L250.13,379.05 L252.56,379.61 L255.00,380.18 L257.43,380.75 L259.87,381.34 L262.30,381.92 L264.73,382.52 L267.16,383.12 L269.58,383.72 L272.01,384.34 L274.43,384.96 L276.85,385.59 L279.27,386.23 L281.69,386.87 L284.10,387.52 L286.51,388.18 L288.92,388.85 L291.33,389.53 L293.73,390.21 L296.14,390.90 L298.54,391.60 L300.94,392.31 L303.33,393.03 L305.73,393.75 L308.12,394.47 L310.51,395.21 L312.90,395.95 L315.29,396.70 L317.67,397.45 L320.06,398.21 L322.44,398.97 L324.82,399.74 L327.19,400.52 L329.57,401.30 L331.95,402.08 L334.32,402.87 L336.69,403.67 L339.06,404.47 L341.43,405.27 L343.80,406.07 L346.17,406.87 L348.54,407.66 L350.91,408.45 L353.29,409.24 L355.66,410.01 L358.04,410.78 L360.43,411.55 L362.81,412.30 L365.20,413.05 L367.58,413.80 L369.97,414.54 L372.36,415.28 L374.75,416.02 L377.14,416.75 L379.54,417.49 L381.93,418.22 L384.32,418.96 L386.71,419.69 L389.10,420.43 L391.49,421.18 L393.87,421.92 L396.26,422.67 L398.64,423.43 L401.02,424.19 L403.40,424.96 L405.78,425.74 L408.15,426.52 L410.52,427.31 L412.89,428.12 L415.26,428.93 L417.62,429.76 L419.97,430.59 L422.32,431.44 L424.67,432.31 L427.01,433.18 L429.35,434.06 L431.69,434.95 L434.03,435.85 L436.36,436.75 L438.69,437.67 L441.02,438.58 L443.35,439.50 L445.67,440.43 L447.99,441.36 L450.31,442.31 L452.62,443.27 L454.92,444.25 L457.21,445.24 L459.50,446.26 L461.77,447.29 L464.04,448.35 L466.29,449.44 L468.52,450.55 L470.75,451.69 L472.96,452.86 L475.16,454.05 L477.34,455.26 L479.52,456.49 L481.69,457.74 L483.84,459.01 L485.99,460.30 L488.13,461.60 L490.26,462.91 L492.38,464.24 L494.49,465.58 L496.60,466.94 L498.70,468.30 L500.79,469.67 L502.87,471.06 L504.94,472.47 L507.01,473.89 L509.06,475.32 L511.10,476.77 L513.13,478.24 L515.15,479.73 L517.16,481.24 L519.15,482.77 L521.13,484.32 L523.08,485.90 L525.02,487.51 L526.93,489.15 L528.82,490.82 L530.67,492.52 L532.49,494.27 L534.27,496.05 L536.01,497.87 L537.69,499.74 L539.29,501.66 L540.80,503.64 L542.17,505.70 L543.37,507.85 L544.39,510.08 L545.23,512.40 L545.87,514.78 L546.32,517.21 L546.56,519.67 L546.62,522.15 L546.48,524.63 L546.15,527.09 L545.62,529.51 L544.91,531.88 L544.02,534.19 L542.96,536.42 L541.73,538.57 L540.37,540.64 L538.88,542.63 L537.28,544.55 L535.61,546.42 L533.88,548.23 L532.09,550.00 L530.26,551.73 L528.40,553.43 L526.51,555.11 L524.60,556.76 L522.67,558.40 L520.74,560.02 L518.80,561.62 L516.84,563.20 L514.87,564.76 L512.88,566.28 L510.87,567.76 L508.82,569.19 L506.75,570.58 L504.65,571.93 L502.52,573.23 L500.37,574.50 L498.20,575.72 L496.00,576.91 L493.79,578.07 L491.56,579.20 L489.32,580.30 L487.06,581.37 L484.79,582.43 L482.52,583.47 L480.24,584.50 L477.95,585.52 L475.66,586.54 L473.37,587.55 L471.08,588.56 L468.78,589.56 L466.48,590.55 L464.18,591.55 L461.88,592.53 L459.58,593.51 L457.27,594.47 L454.96,595.42 L452.64,596.36 L450.32,597.28 L447.99,598.19 L445.65,599.08 L443.31,599.94 L440.96,600.79 L438.60,601.61 L436.23,602.40 L433.86,603.18 L431.47,603.93 L429.09,604.68 L426.70,605.41 L424.31,606.14 L421.91,606.85 L419.52,607.57 L417.12,608.29 L414.72,609.01 L412.33,609.73 L409.93,610.45 L407.54,611.17 L405.15,611.90 L402.75,612.63 L400.36,613.36 L397.97,614.10 L395.59,614.85 L393.20,615.60 L390.82,616.35 L388.43,617.11 L386.05,617.88 L383.68,618.66 L381.30,619.44 L378.93,620.23 L376.55,621.02 L374.18,621.81 L371.81,622.60 L369.44,623.40 L367.07,624.20 L364.70,625.00"/>
<path d="M124.80,382.70 L127.27,383.12 L129.74,383.54 L132.21,383.97 L134.68,384.39 L137.15,384.82 L139.62,385.25 L142.09,385.68 L144.55,386.12 L147.02,386.56 L149.48,387.01 L151.95,387.46 L154.41,387.92 L156.87,388.39 L159.33,388.86 L161.79,389.34 L164.25,389.83 L166.70,390.33 L169.15,390.83 L171.60,391.35 L174.05,391.87 L176.50,392.41 L178.94,392.95 L181.39,393.49 L183.83,394.04 L186.27,394.59 L188.72,395.15 L191.16,395.71 L193.60,396.28 L196.04,396.84 L198.48,397.41 L200.92,397.97 L203.36,398.53 L205.81,399.09 L208.25,399.65 L210.69,400.21 L213.14,400.76 L215.59,401.31 L218.03,401.85 L220.48,402.38 L222.93,402.91 L225.39,403.43 L227.84,403.95 L230.29,404.47 L232.75,404.99 L235.20,405.51 L237.65,406.03 L240.10,406.56 L242.55,407.09 L244.99,407.64 L247.44,408.19 L249.88,408.76 L252.31,409.34 L254.74,409.93 L257.17,410.54 L259.59,411.17 L262.00,411.83 L264.41,412.50 L266.82,413.19 L269.21,413.90 L271.61,414.63 L274.00,415.38 L276.38,416.14 L278.76,416.92 L281.14,417.70 L283.52,418.50 L285.89,419.30 L288.26,420.11 L290.63,420.93 L293.00,421.75 L295.37,422.58 L297.73,423.40 L300.10,424.23 L302.47,425.05 L304.84,425.87 L307.21,426.68 L309.59,427.49 L311.97,428.29 L314.34,429.09 L316.73,429.87 L319.11,430.65 L321.49,431.43 L323.88,432.21 L326.26,432.98 L328.64,433.75 L331.03,434.53 L333.41,435.31 L335.79,436.10 L338.16,436.89 L340.54,437.69 L342.91,438.50 L345.27,439.32 L347.63,440.15 L349.99,441.00 L352.34,441.86 L354.68,442.74 L357.02,443.64 L359.35,444.55 L361.68,445.48 L364.00,446.43 L366.31,447.39 L368.62,448.36 L370.92,449.35 L373.21,450.36 L375.50,451.38 L377.79,452.41 L380.07,453.45 L382.35,454.50 L384.62,455.57 L386.88,456.64 L389.14,457.73 L391.40,458.82 L393.65,459.92 L395.90,461.04 L398.14,462.16 L400.38,463.29 L402.61,464.43 L404.84,465.59 L407.06,466.75 L409.28,467.92 L411.49,469.11 L413.69,470.30 L415.88,471.51 L418.07,472.73 L420.25,473.96 L422.43,475.20 L424.59,476.46 L426.73,477.74 L428.86,479.05 L430.96,480.40 L433.04,481.79 L435.09,483.22 L437.12,484.68 L439.12,486.19 L441.11,487.72 L443.07,489.29 L445.02,490.87 L446.95,492.49 L448.86,494.13 L450.74,495.80 L452.59,497.51 L454.39,499.26 L456.14,501.07 L457.83,502.92 L459.45,504.84 L461.00,506.83 L462.46,508.87 L463.82,510.98 L465.08,513.16 L466.22,515.40 L467.22,517.71 L468.08,520.07 L468.79,522.48 L469.33,524.93 L469.68,527.41 L469.84,529.89 L469.78,532.38 L469.52,534.86 L469.06,537.31 L468.43,539.73 L467.63,542.11 L466.68,544.43 L465.58,546.68 L464.36,548.88 L463.02,551.00 L461.57,553.06 L460.03,555.04 L458.39,556.95 L456.68,558.79 L454.90,560.56 L453.06,562.27 L451.17,563.93 L449.24,565.54 L447.27,567.10 L445.27,568.62 L443.24,570.10 L441.18,571.54 L439.11,572.95 L437.01,574.33 L434.89,575.68 L432.77,577.01 L430.62,578.32 L428.47,579.61 L426.31,580.88 L424.13,582.14 L421.95,583.38 L419.77,584.62 L417.58,585.84 L415.38,587.04 L413.17,588.24 L410.97,589.43 L408.75,590.61 L406.53,591.78 L404.31,592.94 L402.09,594.09 L399.86,595.24 L397.62,596.37 L395.39,597.50 L393.14,598.61 L390.89,599.70 L388.63,600.77 L386.36,601.82 L384.07,602.83 L381.77,603.81 L379.46,604.76 L377.13,605.67 L374.79,606.55 L372.45,607.41 L370.09,608.24 L367.72,609.06 L365.34,609.85 L362.97,610.64 L360.58,611.42 L358.20,612.19 L355.81,612.96 L353.43,613.73 L351.04,614.51 L348.66,615.29 L346.28,616.07 L343.90,616.86 L341.52,617.66 L339.15,618.46 L336.77,619.26 L334.40,620.07 L332.03,620.89 L329.66,621.70 L327.30,622.52 L324.93,623.35 L322.57,624.17 L320.20,625.00"/>
<path d="M124.80,411.20 L127.29,411.55 L129.77,411.91 L132.25,412.27 L134.74,412.63 L137.22,413.00 L139.70,413.37 L142.18,413.76 L144.65,414.15 L147.12,414.56 L149.59,414.98 L152.06,415.41 L154.52,415.86 L156.97,416.33 L159.43,416.81 L161.87,417.32 L164.32,417.85 L166.75,418.40 L169.18,418.98 L171.60,419.58 L174.02,420.21 L176.44,420.85 L178.85,421.49 L181.27,422.13 L183.69,422.75 L186.11,423.37 L188.54,423.99 L190.96,424.60 L193.39,425.20 L195.82,425.81 L198.25,426.41 L200.68,427.02 L203.11,427.63 L205.54,428.25 L207.97,428.87 L210.39,429.50 L212.82,430.14 L215.24,430.79 L217.66,431.45 L220.07,432.12 L222.48,432.80 L224.89,433.49 L227.30,434.19 L229.70,434.90 L232.11,435.62 L234.50,436.35 L236.90,437.08 L239.29,437.83 L241.68,438.59 L244.06,439.36 L246.45,440.14 L248.83,440.93 L251.20,441.72 L253.57,442.53 L255.94,443.35 L258.31,444.18 L260.67,445.02 L263.03,445.86 L265.38,446.72 L267.73,447.59 L270.07,448.47 L272.41,449.36 L274.75,450.27 L277.08,451.19 L279.40,452.13 L281.71,453.09 L284.02,454.06 L286.32,455.06 L288.61,456.06 L290.90,457.08 L293.18,458.10 L295.47,459.13 L297.75,460.17 L300.03,461.21 L302.31,462.24 L304.59,463.28 L306.87,464.31 L309.16,465.33 L311.45,466.36 L313.73,467.38 L316.02,468.41 L318.30,469.44 L320.58,470.48 L322.86,471.53 L325.13,472.58 L327.40,473.64 L329.66,474.72 L331.92,475.80 L334.17,476.89 L336.42,477.99 L338.67,479.09 L340.91,480.21 L343.15,481.33 L345.37,482.48 L347.59,483.64 L349.79,484.82 L351.98,486.04 L354.15,487.28 L356.29,488.57 L358.42,489.88 L360.54,491.22 L362.63,492.60 L364.72,493.99 L366.79,495.40 L368.86,496.83 L370.92,498.27 L372.98,499.72 L375.03,501.17 L377.07,502.64 L379.08,504.15 L381.05,505.70 L382.96,507.32 L384.79,509.01 L386.55,510.79 L388.22,512.65 L389.79,514.59 L391.28,516.61 L392.67,518.70 L393.96,520.86 L395.13,523.08 L396.16,525.36 L397.04,527.69 L397.75,530.08 L398.27,532.52 L398.61,534.99 L398.77,537.48 L398.75,539.97 L398.56,542.47 L398.20,544.94 L397.68,547.39 L396.99,549.80 L396.16,552.17 L395.19,554.48 L394.08,556.73 L392.84,558.91 L391.50,561.02 L390.04,563.05 L388.49,565.02 L386.85,566.91 L385.14,568.74 L383.36,570.50 L381.53,572.21 L379.65,573.87 L377.73,575.49 L375.79,577.08 L373.82,578.63 L371.84,580.16 L369.84,581.65 L367.82,583.11 L365.77,584.53 L363.69,585.89 L361.59,587.21 L359.45,588.49 L357.29,589.73 L355.12,590.94 L352.92,592.13 L350.71,593.29 L348.49,594.43 L346.25,595.55 L344.00,596.64 L341.74,597.72 L339.46,598.78 L337.18,599.82 L334.89,600.83 L332.59,601.84 L330.29,602.82 L327.97,603.78 L325.65,604.73 L323.33,605.67 L320.99,606.59 L318.66,607.50 L316.32,608.39 L313.97,609.28 L311.62,610.16 L309.27,611.03 L306.92,611.90 L304.57,612.76 L302.22,613.62 L299.86,614.48 L297.51,615.34 L295.15,616.20 L292.80,617.06 L290.45,617.93 L288.10,618.80 L285.76,619.68 L283.41,620.56 L281.07,621.44 L278.72,622.33 L276.38,623.22 L274.04,624.11 L271.70,625.00"/>
<path d="M124.80,442.40 L127.26,442.90 L129.71,443.41 L132.17,443.91 L134.63,444.42 L137.08,444.93 L139.54,445.45 L141.99,445.97 L144.44,446.50 L146.89,447.03 L149.34,447.57 L151.79,448.11 L154.24,448.66 L156.69,449.21 L159.13,449.77 L161.58,450.33 L164.02,450.90 L166.47,451.47 L168.91,452.04 L171.35,452.62 L173.79,453.21 L176.23,453.80 L178.66,454.39 L181.10,454.99 L183.53,455.60 L185.97,456.21 L188.40,456.82 L190.83,457.44 L193.26,458.07 L195.69,458.70 L198.11,459.34 L200.54,459.99 L202.96,460.65 L205.37,461.32 L207.79,462.01 L210.20,462.71 L212.60,463.42 L215.00,464.15 L217.40,464.89 L219.79,465.65 L222.17,466.43 L224.55,467.22 L226.92,468.04 L229.29,468.86 L231.65,469.71 L234.01,470.58 L236.35,471.47 L238.69,472.37 L241.02,473.29 L243.35,474.23 L245.67,475.19 L247.99,476.16 L250.29,477.14 L252.60,478.14 L254.89,479.16 L257.19,480.18 L259.47,481.21 L261.75,482.26 L264.03,483.31 L266.30,484.38 L268.57,485.46 L270.82,486.57 L273.05,487.70 L275.27,488.86 L277.47,490.05 L279.66,491.28 L281.82,492.55 L283.96,493.85 L286.09,495.18 L288.20,496.53 L290.29,497.92 L292.37,499.32 L294.44,500.75 L296.49,502.20 L298.53,503.67 L300.55,505.17 L302.55,506.69 L304.53,508.24 L306.50,509.81 L308.43,511.42 L310.34,513.06 L312.21,514.75 L314.04,516.48 L315.81,518.25 L317.53,520.09 L319.19,521.98 L320.78,523.94 L322.29,525.95 L323.72,528.02 L325.07,530.15 L326.33,532.33 L327.47,534.57 L328.49,536.86 L329.33,539.20 L329.99,541.60 L330.44,544.04 L330.70,546.51 L330.76,548.99 L330.62,551.47 L330.29,553.92 L329.75,556.34 L329.01,558.71 L328.08,561.02 L326.99,563.27 L325.75,565.45 L324.40,567.57 L322.94,569.62 L321.39,571.61 L319.76,573.53 L318.06,575.40 L316.30,577.20 L314.49,578.95 L312.62,580.64 L310.71,582.28 L308.76,583.87 L306.77,585.41 L304.75,586.91 L302.70,588.36 L300.62,589.78 L298.52,591.16 L296.40,592.51 L294.26,593.83 L292.11,595.13 L289.94,596.40 L287.76,597.65 L285.57,598.87 L283.36,600.06 L281.14,601.22 L278.89,602.34 L276.63,603.42 L274.36,604.46 L272.06,605.46 L269.74,606.41 L267.41,607.33 L265.06,608.21 L262.70,609.06 L260.33,609.88 L257.96,610.68 L255.57,611.46 L253.18,612.21 L250.78,612.94 L248.37,613.64 L245.96,614.33 L243.54,615.00 L241.11,615.64 L238.68,616.27 L236.25,616.88 L233.81,617.48 L231.37,618.06 L228.93,618.63 L226.48,619.19 L224.03,619.74 L221.58,620.28 L219.13,620.82 L216.68,621.35 L214.23,621.88 L211.77,622.40 L209.32,622.93 L206.86,623.45 L204.41,623.97 L201.95,624.48 L199.50,625.00"/>
<path d="M124.80,618.70 C129.03,619.33 133.46,619.83 137.50,620.60 C141.23,621.31 144.53,622.38 148.20,623.10 C152.02,623.85 156.07,624.37 160.00,625.00"/>
<path d="M124.80,480.30 L127.31,480.53 L129.82,480.76 L132.32,481.01 L134.83,481.28 L137.32,481.57 L139.81,481.90 L142.29,482.28 L144.77,482.70 L147.23,483.18 L149.69,483.70 L152.13,484.27 L154.57,484.88 L157.00,485.53 L159.42,486.21 L161.84,486.91 L164.25,487.64 L166.66,488.39 L169.06,489.14 L171.46,489.91 L173.86,490.68 L176.25,491.46 L178.64,492.26 L181.03,493.06 L183.41,493.87 L185.79,494.70 L188.16,495.53 L190.53,496.39 L192.89,497.26 L195.24,498.14 L197.59,499.05 L199.94,499.97 L202.27,500.91 L204.60,501.88 L206.92,502.87 L209.22,503.88 L211.52,504.91 L213.80,505.98 L216.07,507.07 L218.33,508.19 L220.57,509.33 L222.79,510.51 L224.99,511.73 L227.18,512.97 L229.34,514.26 L231.47,515.59 L233.56,516.97 L235.62,518.42 L237.63,519.92 L239.59,521.49 L241.52,523.12 L243.40,524.79 L245.25,526.52 L247.07,528.28 L248.85,530.09 L250.59,531.94 L252.26,533.84 L253.85,535.81 L255.35,537.84 L256.74,539.94 L258.00,542.12 L259.10,544.38 L260.01,546.71 L260.72,549.11 L261.22,551.56 L261.50,554.05 L261.55,556.54 L261.36,559.03 L260.95,561.49 L260.33,563.91 L259.51,566.28 L258.51,568.58 L257.34,570.82 L256.05,573.00 L254.66,575.12 L253.21,577.20 L251.69,579.22 L250.10,581.18 L248.43,583.06 L246.68,584.85 L244.83,586.55 L242.91,588.15 L240.91,589.68 L238.86,591.13 L236.76,592.53 L234.62,593.87 L232.46,595.15 L230.26,596.38 L228.03,597.54 L225.76,598.63 L223.47,599.65 L221.14,600.59 L218.78,601.46 L216.40,602.26 L214.00,603.00 L211.58,603.69 L209.14,604.33 L206.69,604.94 L204.24,605.51 L201.77,606.05 L199.30,606.56 L196.83,607.04 L194.35,607.50 L191.87,607.92 L189.38,608.33 L186.89,608.70 L184.39,609.05 L181.89,609.37 L179.39,609.66 L176.89,609.91 L174.39,610.11 L171.88,610.27 L169.38,610.37 L166.87,610.42 L164.36,610.41 L161.85,610.35 L159.35,610.24 L156.85,610.08 L154.35,609.88 L151.85,609.61 L149.37,609.30 L146.89,608.93 L144.42,608.50 L141.95,608.03 L139.49,607.52 L137.04,606.97 L134.58,606.40 L132.14,605.82 L129.69,605.22 L127.24,604.61 L124.80,604.00"/>
<path d="M656.40,625.00 L658.87,624.60 L661.35,624.20 L663.82,623.81 L666.30,623.41 L668.77,623.01 L671.24,622.61 L673.72,622.22 L676.19,621.82 L678.67,621.42 L681.14,621.03 L683.61,620.63 L686.09,620.24 L688.56,619.84 L691.04,619.45 L693.51,619.05 L695.99,618.66 L698.46,618.27 L700.94,617.88 L703.41,617.49 L705.89,617.10 L708.36,616.71 L710.84,616.32 L713.31,615.93 L715.79,615.54 L718.26,615.15 L720.74,614.76 L723.21,614.37 L725.69,613.98 L728.16,613.58 L730.63,613.19 L733.11,612.80 L735.58,612.40 L738.06,612.01 L740.53,611.61 L743.00,611.21 L745.48,610.81 L747.95,610.40 L750.42,610.00 L752.89,609.59 L755.37,609.18 L757.84,608.77 L760.31,608.35 L762.78,607.93 L765.25,607.51 L767.72,607.09 L770.19,606.66 L772.65,606.24 L775.12,605.81 L777.59,605.38 L780.06,604.95 L782.53,604.52 L785.00,604.10 L787.47,603.67 L789.94,603.25 L792.41,602.83 L794.88,602.41 L797.35,602.00 L799.83,601.59 L802.30,601.18 L804.78,600.78 L807.25,600.38 L809.73,599.99 L812.20,599.60 L814.68,599.20 L817.16,598.82 L819.64,598.43 L822.12,598.04 L824.59,597.65 L827.07,597.26 L829.55,596.86 L832.02,596.47 L834.50,596.07 L836.97,595.67 L839.45,595.27 L841.92,594.85 L844.39,594.44 L846.86,594.02 L849.33,593.59 L851.80,593.16 L854.27,592.71 L856.73,592.26 L859.19,591.80 L861.65,591.33 L864.11,590.86 L866.56,590.37 L869.02,589.87 L871.47,589.35 L873.91,588.83 L876.36,588.29 L878.80,587.74 L881.24,587.17 L883.67,586.59 L886.10,586.00 L888.53,585.39 L890.96,584.77 L893.38,584.14 L895.80,583.50 L898.22,582.86 L900.64,582.20 L903.06,581.55 L905.48,580.89 L907.89,580.22 L910.31,579.56 L912.72,578.89 L915.14,578.23 L917.56,577.57 L919.98,576.92 L922.40,576.27 L924.82,575.63 L927.24,575.00 L929.67,574.38 L932.10,573.77 L934.53,573.18 L936.97,572.59 L939.41,572.02 L941.85,571.46 L944.29,570.91 L946.73,570.37 L949.18,569.84 L951.63,569.32 L954.08,568.81 L956.54,568.31 L958.99,567.81 L961.45,567.32 L963.91,566.84 L966.37,566.36 L968.83,565.90 L971.30,565.43 L973.76,564.97 L976.23,564.52 L978.69,564.06 L981.16,563.62 L983.63,563.17 L986.09,562.73 L988.56,562.28 L991.03,561.84 L993.50,561.40"/>
<path d="M713.40,625.50 L715.88,625.14 L718.37,624.77 L720.85,624.41 L723.33,624.05 L725.82,623.68 L728.30,623.31 L730.78,622.95 L733.26,622.57 L735.75,622.20 L738.23,621.83 L740.71,621.45 L743.19,621.07 L745.67,620.69 L748.15,620.30 L750.63,619.91 L753.11,619.52 L755.58,619.12 L758.06,618.72 L760.54,618.32 L763.02,617.91 L765.49,617.51 L767.97,617.10 L770.44,616.70 L772.92,616.29 L775.40,615.89 L777.88,615.49 L780.35,615.09 L782.83,614.69 L785.31,614.29 L787.79,613.89 L790.27,613.50 L792.74,613.11 L795.22,612.72 L797.70,612.33 L800.18,611.94 L802.66,611.56 L805.14,611.18 L807.62,610.79 L810.11,610.42 L812.59,610.04 L815.07,609.66 L817.55,609.29 L820.03,608.92 L822.52,608.55 L825.00,608.19 L827.48,607.82 L829.97,607.46 L832.45,607.10 L834.94,606.74 L837.42,606.39 L839.91,606.03 L842.39,605.68 L844.88,605.33 L847.36,604.99 L849.85,604.64 L852.34,604.30 L854.82,603.96 L857.31,603.62 L859.80,603.28 L862.29,602.94 L864.77,602.60 L867.26,602.26 L869.75,601.92 L872.24,601.58 L874.72,601.24 L877.21,600.90 L879.70,600.56 L882.19,600.22 L884.67,599.88 L887.16,599.54 L889.65,599.19 L892.13,598.85 L894.62,598.50 L897.10,598.15 L899.59,597.79 L902.07,597.44 L904.56,597.08 L907.04,596.72 L909.53,596.36 L912.01,595.99 L914.49,595.62 L916.97,595.24 L919.45,594.86 L921.93,594.48 L924.41,594.09 L926.89,593.70 L929.37,593.31 L931.84,592.91 L934.32,592.50 L936.80,592.09 L939.27,591.67 L941.74,591.25 L944.22,590.82 L946.69,590.38 L949.16,589.94 L951.63,589.49 L954.09,589.04 L956.56,588.58 L959.03,588.12 L961.49,587.65 L963.96,587.18 L966.42,586.70 L968.89,586.22 L971.35,585.74 L973.81,585.25 L976.27,584.77 L978.73,584.28 L981.20,583.78 L983.66,583.29 L986.12,582.79 L988.58,582.30 L991.04,581.80 L993.50,581.30"/>
<path d="M776.00,625.00 C800.67,622.00 823.73,619.41 850.00,616.00 C879.98,612.10 919.78,606.54 946.20,602.70 C964.75,600.01 977.73,597.90 993.50,595.50"/>
<path d="M840.80,625.00 C854.37,623.83 866.39,623.16 881.50,621.50 C900.60,619.40 926.31,615.31 946.20,612.80 C963.19,610.65 977.73,609.07 993.50,607.20"/>
<path d="M911.20,625.50 C922.87,624.00 933.65,622.48 946.20,621.00 C960.77,619.28 977.73,617.60 993.50,615.90"/>
<path d="M986.3,625.2 L993.5,624.0"/>
</g>
<path d="M124.8,542.6 L147.1,543.3 L155.3,549.3 L160.4,558.9 L159.0,563.3 L147.9,569.3 L136.7,565.6 L124.8,562.6" fill="none" stroke="#ff0000" stroke-width="5" stroke-linejoin="round"/>
<rect x="782.00" y="26.40" width="51.6" height="34.6" fill="#fff"/>
<rect x="671.00" y="47.10" width="51.6" height="34.6" fill="#fff"/>
<rect x="533.70" y="61.90" width="51.6" height="34.6" fill="#fff"/>
<rect x="556.00" y="100.60" width="51.6" height="34.6" fill="#fff"/>
<rect x="491.80" y="123.60" width="51.6" height="34.6" fill="#fff"/>
<rect x="531.20" y="161.90" width="51.6" height="34.6" fill="#fff"/>
<rect x="570.20" y="199.60" width="51.6" height="34.6" fill="#fff"/>
<rect x="515.80" y="220.90" width="51.6" height="34.6" fill="#fff"/>
<rect x="465.00" y="241.70" width="51.6" height="34.6" fill="#fff"/>
<rect x="406.50" y="259.20" width="51.6" height="34.6" fill="#fff"/>
<rect x="354.30" y="277.80" width="51.6" height="34.6" fill="#fff"/>
<rect x="304.20" y="295.20" width="51.6" height="34.6" fill="#fff"/>
<rect x="243.90" y="310.20" width="51.6" height="34.6" fill="#fff"/>
<rect x="185.20" y="326.30" width="51.6" height="34.6" fill="#fff"/>
<rect x="234.60" y="364.90" width="51.6" height="34.6" fill="#fff"/>
<rect x="167.90" y="378.00" width="51.6" height="34.6" fill="#fff"/>
<rect x="211.00" y="419.10" width="51.6" height="34.6" fill="#fff"/>
<rect x="135.60" y="431.60" width="51.6" height="34.6" fill="#fff"/>
<rect x="145.40" y="472.40" width="51.6" height="34.6" fill="#fff"/>
<rect x="699.60" y="585.60" width="51.6" height="34.6" fill="#fff"/>
<rect x="774.70" y="584.20" width="51.6" height="34.6" fill="#fff"/>
<rect x="828.70" y="587.20" width="51.6" height="34.6" fill="#fff"/>
<rect x="894.20" y="588.40" width="51.6" height="34.6" fill="#fff"/>
<g font-family="Liberation Sans, sans-serif" font-size="30" text-anchor="middle" fill="#000">
<text transform="translate(807.8,55.3) scale(1,1.08)">54</text>
<text transform="translate(696.8,76.0) scale(1,1.08)">56</text>
<text transform="translate(559.5,90.8) scale(1,1.08)">58</text>
<text transform="translate(581.8,129.5) scale(1,1.08)">60</text>
<text transform="translate(517.6,152.5) scale(1,1.08)">62</text>
<text transform="translate(557.0,190.8) scale(1,1.08)">64</text>
<text transform="translate(596.0,228.5) scale(1,1.08)">66</text>
<text transform="translate(541.6,249.8) scale(1,1.08)">68</text>
<text transform="translate(490.8,270.6) scale(1,1.08)">70</text>
<text transform="translate(432.3,288.1) scale(1,1.08)">72</text>
<text transform="translate(380.1,306.7) scale(1,1.08)">74</text>
<text transform="translate(330.0,324.1) scale(1,1.08)">76</text>
<text transform="translate(269.7,339.1) scale(1,1.08)">78</text>
<text transform="translate(211.0,355.2) scale(1,1.08)">80</text>
<text transform="translate(260.4,393.8) scale(1,1.08)">82</text>
<text transform="translate(193.7,406.9) scale(1,1.08)">84</text>
<text transform="translate(236.8,448.0) scale(1,1.08)">86</text>
<text transform="translate(161.4,460.5) scale(1,1.08)">88</text>
<text transform="translate(171.2,501.3) scale(1,1.08)">90</text>
<text transform="translate(725.4,614.5) scale(1,1.08)">72</text>
<text transform="translate(800.5,613.1) scale(1,1.08)">70</text>
<text transform="translate(854.5,616.1) scale(1,1.08)">68</text>
<text transform="translate(920.0,617.3) scale(1,1.08)">66</text>
</g>
<rect x="117.6" y="10.4" width="882.9" height="622.1" fill="none" stroke="#000" stroke-width="3"/>
<g font-family="Liberation Sans, sans-serif" font-size="30.5" fill="#000">
<text transform="translate(106.3,568.8) scale(1,1.10)" text-anchor="end">100</text>
<text transform="translate(106.3,433.8) scale(1,1.10)" text-anchor="end">200</text>
<text transform="translate(106.3,298.8) scale(1,1.10)" text-anchor="end">300</text>
<text transform="translate(106.3,163.8) scale(1,1.10)" text-anchor="end">400</text>
<text transform="translate(106.3,28.8) scale(1,1.10)" text-anchor="end">500</text>
<text transform="translate(262.0,674) scale(1,1.05)" text-anchor="middle">20</text>
<text transform="translate(444.9,674) scale(1,1.05)" text-anchor="middle">40</text>
<text transform="translate(627.7,674) scale(1,1.05)" text-anchor="middle">60</text>
<text transform="translate(810.6,674) scale(1,1.05)" text-anchor="middle">80</text>
<text transform="translate(993.5,674) scale(1,1.05)" text-anchor="middle">100</text>
</g>
<g font-family="Liberation Serif, serif" fill="#000" transform="translate(436.8,722.6)"><text x="0" y="0" font-size="37">Cycle Time,</text><text x="190.5" y="0" font-size="37">&#964;</text><text x="205.2" y="13.2" font-size="27.5">2</text><text x="218.6" y="0" font-size="32">(s)</text></g>
<g font-family="Liberation Serif, serif" fill="#000" transform="translate(30.7,446.7) rotate(-90)"><text x="0" y="0" font-size="37">Cycle Time,</text><text x="190.5" y="0" font-size="37">&#964;</text><text x="207.3" y="13.2" font-size="27.5">1</text><text x="218.6" y="0" font-size="32">(s)</text></g>
</svg></body></html>
